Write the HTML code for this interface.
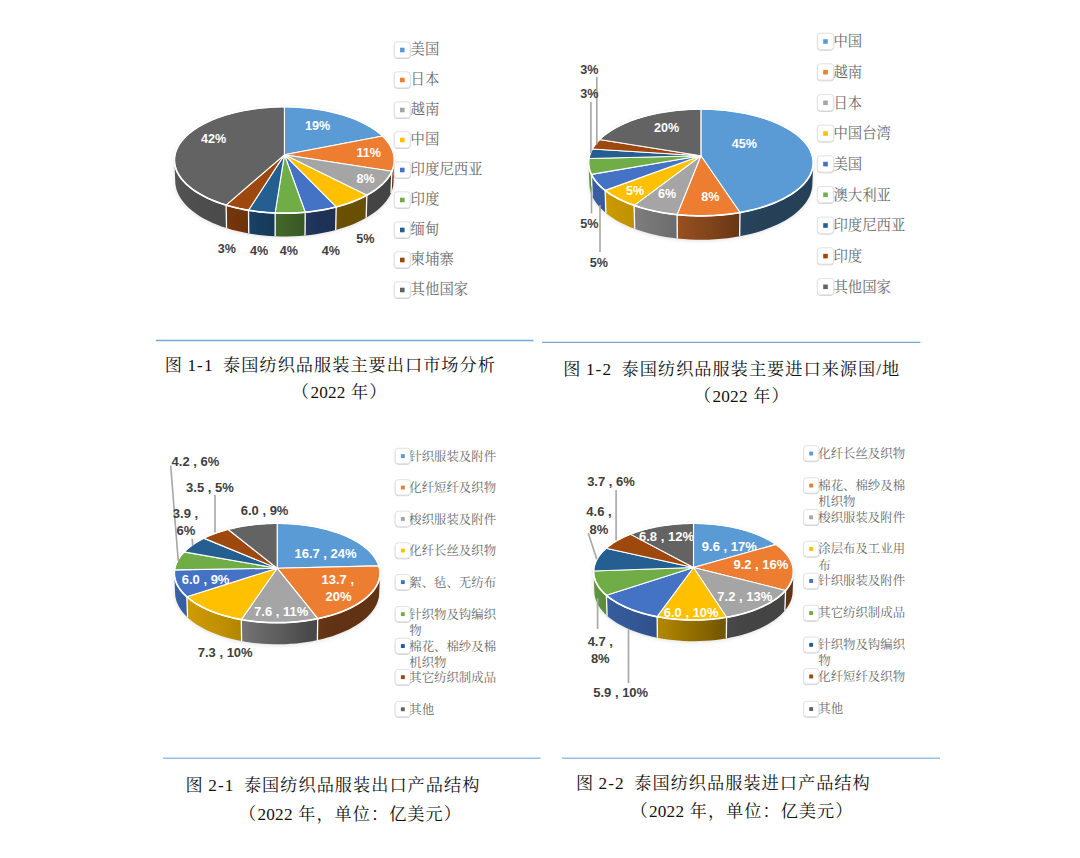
<!DOCTYPE html>
<html lang="zh-CN"><head><meta charset="utf-8"><title>泰国纺织品服装进出口结构</title>
<style>
html,body{margin:0;padding:0;background:#fff}
#page{width:1080px;height:858px;position:relative;overflow:hidden;background:#fff}
svg{display:block}
.dl{font-family:"Liberation Sans",sans-serif;font-weight:bold;text-anchor:middle}
.lg{font-family:"Liberation Serif","Noto Serif CJK SC",serif;fill:#6a6a6a}
.cp{font-family:"Liberation Serif","Noto Serif CJK SC",serif;fill:#111}
.sp{letter-spacing:1.0px}
.cn{white-space:pre;letter-spacing:1.1px}
.dg{letter-spacing:0.2px}
.rl{stroke:#76aadd;stroke-width:1.3;fill:none}
.r2{stroke:#98bee6;stroke-width:1.5}
</style></head><body>
<div id="page">
<svg width="1080" height="858" viewBox="0 0 1080 858">
<defs><filter id="blur" x="-20%" y="-20%" width="140%" height="140%"><feGaussianBlur stdDeviation="2.2"/></filter></defs>
<g id="rules">
<path d="M155.7 340.5H533.5" class="rl"/>
<path d="M542 342.4H920.4" class="rl"/>
<path d="M163 758.2H540.5" class="rl r2"/>
<path d="M562 758.2H940" class="rl r2"/>
</g>
<g id="pies">
<path d="M174.38 159.95 L174.53 157.17 L174.98 154.41 L175.72 151.68 L176.74 148.99 L178.04 146.34 L179.61 143.73 L181.44 141.18 L183.53 138.69 L185.86 136.27 L188.43 133.92 L191.22 131.64 L194.24 129.44 L197.46 127.32 L200.87 125.29 L204.48 123.36 L208.26 121.51 L212.21 119.77 L216.32 118.12 L220.57 116.58 L224.96 115.14 L229.47 113.81 L234.10 112.59 L238.83 111.48 L243.66 110.49 L248.57 109.60 L253.55 108.84 L258.60 108.19 L263.70 107.65 L268.84 107.24 L274.01 106.94 L279.20 106.76 L284.40 106.70 L289.60 106.76 L294.79 106.94 L299.96 107.24 L305.10 107.65 L310.20 108.19 L315.25 108.84 L320.23 109.60 L325.14 110.49 L329.97 111.48 L334.70 112.59 L339.33 113.81 L343.84 115.14 L348.23 116.58 L352.48 118.12 L356.59 119.77 L360.54 121.51 L364.32 123.36 L367.93 125.29 L371.34 127.32 L374.56 129.44 L377.58 131.64 L380.37 133.92 L382.94 136.27 L385.27 138.69 L387.36 141.18 L389.19 143.73 L390.76 146.34 L392.06 148.99 L393.08 151.68 L393.82 154.41 L394.27 157.17 L394.42 159.95 L393.54 181.19 L393.39 184.07 L392.94 186.96 L392.19 189.84 L391.14 192.72 L389.78 195.58 L388.12 198.41 L386.15 201.20 L383.87 203.95 L381.29 206.64 L378.42 209.27 L375.25 211.83 L371.80 214.31 L368.07 216.70 L364.07 218.99 L359.81 221.17 L355.30 223.24 L350.56 225.18 L345.60 226.98 L340.42 228.65 L335.06 230.18 L329.52 231.55 L323.83 232.76 L318.00 233.81 L312.05 234.69 L306.01 235.40 L299.89 235.94 L293.72 236.30 L287.51 236.47 L281.29 236.47 L275.08 236.30 L268.91 235.94 L262.79 235.40 L256.75 234.69 L250.80 233.81 L244.97 232.76 L239.28 231.55 L233.74 230.18 L228.38 228.65 L223.20 226.98 L218.24 225.18 L213.50 223.24 L208.99 221.17 L204.73 218.99 L200.73 216.70 L197.00 214.31 L193.55 211.83 L190.38 209.27 L187.51 206.64 L184.93 203.95 L182.65 201.20 L180.68 198.41 L179.02 195.58 L177.66 192.72 L176.61 189.84 L175.86 186.96 L175.41 184.07 L175.26 181.19Z" fill="#000" opacity="0.13" filter="url(#blur)" transform="translate(0,0.8)"/>
<linearGradient id="g0_1" gradientUnits="userSpaceOnUse" x1="394.42" y1="0" x2="391.90" y2="0"><stop offset="0.000" stop-color="#613314"/><stop offset="0.039" stop-color="#613314"/><stop offset="0.159" stop-color="#613314"/><stop offset="0.358" stop-color="#613314"/><stop offset="0.638" stop-color="#613314"/><stop offset="1.000" stop-color="#613314"/></linearGradient>
<path d="M394.42 159.95 L394.32 162.21 L394.02 164.48 L393.52 166.75 L392.81 169.01 L391.90 171.27 L391.04 192.95 L391.94 190.61 L392.64 188.25 L393.14 185.90 L393.44 183.54 L393.54 181.19Z" fill="url(#g0_1)"/>
<linearGradient id="g0_2" gradientUnits="userSpaceOnUse" x1="391.90" y1="0" x2="366.83" y2="0"><stop offset="0.000" stop-color="#444444"/><stop offset="0.052" stop-color="#444444"/><stop offset="0.115" stop-color="#444444"/><stop offset="0.189" stop-color="#444444"/><stop offset="0.273" stop-color="#444444"/><stop offset="0.368" stop-color="#444444"/><stop offset="0.474" stop-color="#444444"/><stop offset="0.591" stop-color="#444444"/><stop offset="0.717" stop-color="#444444"/><stop offset="0.854" stop-color="#444444"/><stop offset="1.000" stop-color="#444444"/></linearGradient>
<path d="M391.90 171.27 L390.60 173.85 L389.02 176.42 L387.18 178.95 L385.06 181.44 L382.67 183.89 L380.01 186.29 L377.10 188.63 L373.92 190.90 L370.50 193.10 L366.83 195.21 L366.17 217.82 L369.81 215.62 L373.21 213.34 L376.35 210.98 L379.25 208.55 L381.88 206.06 L384.25 203.52 L386.35 200.93 L388.19 198.30 L389.75 195.63 L391.04 192.95Z" fill="url(#g0_2)"/>
<linearGradient id="g0_3" gradientUnits="userSpaceOnUse" x1="366.83" y1="0" x2="336.16" y2="0"><stop offset="0.000" stop-color="#694f00"/><stop offset="0.123" stop-color="#694f00"/><stop offset="0.254" stop-color="#694f00"/><stop offset="0.391" stop-color="#694f00"/><stop offset="0.535" stop-color="#694f00"/><stop offset="0.684" stop-color="#694f00"/><stop offset="0.840" stop-color="#6a5000"/><stop offset="1.000" stop-color="#6c5100"/></linearGradient>
<path d="M366.83 195.21 L363.04 197.19 L359.04 199.07 L354.83 200.85 L350.43 202.54 L345.84 204.12 L341.08 205.59 L336.16 206.94 L335.75 229.99 L340.63 228.59 L345.35 227.07 L349.90 225.43 L354.27 223.68 L358.44 221.82 L362.41 219.87 L366.17 217.82Z" fill="url(#g0_3)"/>
<linearGradient id="g0_4" gradientUnits="userSpaceOnUse" x1="336.16" y1="0" x2="305.21" y2="0"><stop offset="0.000" stop-color="#1d3053"/><stop offset="0.158" stop-color="#1d3154"/><stop offset="0.320" stop-color="#1e3255"/><stop offset="0.486" stop-color="#1e3257"/><stop offset="0.654" stop-color="#1f3358"/><stop offset="0.826" stop-color="#20365d"/><stop offset="1.000" stop-color="#223961"/></linearGradient>
<path d="M336.16 206.94 L331.27 208.12 L326.26 209.19 L321.13 210.14 L315.90 210.97 L310.59 211.67 L305.21 212.24 L305.04 235.50 L310.38 234.91 L315.65 234.18 L320.84 233.32 L325.92 232.34 L330.90 231.23 L335.75 229.99Z" fill="url(#g0_4)"/>
<linearGradient id="g0_5" gradientUnits="userSpaceOnUse" x1="305.21" y1="0" x2="275.12" y2="0"><stop offset="0.000" stop-color="#385623"/><stop offset="0.198" stop-color="#3a5a25"/><stop offset="0.398" stop-color="#3d5e27"/><stop offset="0.598" stop-color="#3f6128"/><stop offset="0.799" stop-color="#416429"/><stop offset="1.000" stop-color="#43672a"/></linearGradient>
<path d="M305.21 212.24 L299.25 212.71 L293.24 213.02 L287.20 213.18 L281.16 213.17 L275.12 213.01 L275.19 236.30 L281.18 236.47 L287.18 236.48 L293.17 236.32 L299.13 235.99 L305.04 235.50Z" fill="url(#g0_5)"/>
<linearGradient id="g0_6" gradientUnits="userSpaceOnUse" x1="275.12" y1="0" x2="248.49" y2="0"><stop offset="0.000" stop-color="#163856"/><stop offset="0.204" stop-color="#173a59"/><stop offset="0.407" stop-color="#183c5c"/><stop offset="0.607" stop-color="#183e5f"/><stop offset="0.805" stop-color="#194062"/><stop offset="1.000" stop-color="#1a4164"/></linearGradient>
<path d="M275.12 213.01 L269.69 212.72 L264.29 212.30 L258.95 211.75 L253.68 211.08 L248.49 210.28 L248.78 233.47 L253.93 234.30 L259.16 235.00 L264.45 235.57 L269.80 236.00 L275.19 236.30Z" fill="url(#g0_6)"/>
<linearGradient id="g0_7" gradientUnits="userSpaceOnUse" x1="248.49" y1="0" x2="226.06" y2="0"><stop offset="0.000" stop-color="#6d320a"/><stop offset="0.261" stop-color="#6f330a"/><stop offset="0.515" stop-color="#72340a"/><stop offset="0.761" stop-color="#74350a"/><stop offset="1.000" stop-color="#76360a"/></linearGradient>
<path d="M248.49 210.28 L242.65 209.21 L236.95 207.99 L231.41 206.61 L226.06 205.09 L226.53 228.08 L231.84 229.66 L237.33 231.09 L242.98 232.36 L248.78 233.47Z" fill="url(#g0_7)"/>
<linearGradient id="g0_8" gradientUnits="userSpaceOnUse" x1="226.06" y1="0" x2="174.38" y2="0"><stop offset="0.000" stop-color="#4a4a4a"/><stop offset="0.098" stop-color="#4b4b4b"/><stop offset="0.191" stop-color="#4b4b4b"/><stop offset="0.281" stop-color="#4c4c4c"/><stop offset="0.366" stop-color="#4d4d4d"/><stop offset="0.446" stop-color="#4d4d4d"/><stop offset="0.521" stop-color="#4e4e4e"/><stop offset="0.592" stop-color="#4f4f4f"/><stop offset="0.656" stop-color="#4f4f4f"/><stop offset="0.716" stop-color="#505050"/><stop offset="0.770" stop-color="#515151"/><stop offset="0.818" stop-color="#515151"/><stop offset="0.861" stop-color="#525252"/><stop offset="0.898" stop-color="#535353"/><stop offset="0.929" stop-color="#535353"/><stop offset="0.955" stop-color="#545454"/><stop offset="0.975" stop-color="#545454"/><stop offset="0.989" stop-color="#555555"/><stop offset="0.997" stop-color="#555555"/><stop offset="1.000" stop-color="#565656"/></linearGradient>
<path d="M226.06 205.09 L221.01 203.47 L216.17 201.72 L211.55 199.85 L207.16 197.87 L203.01 195.78 L199.12 193.59 L195.49 191.31 L192.14 188.95 L189.06 186.52 L186.27 184.02 L183.77 181.47 L181.56 178.86 L179.65 176.22 L178.03 173.54 L176.71 170.84 L175.69 168.12 L174.96 165.40 L174.53 162.67 L174.38 159.95 L175.26 181.19 L175.41 184.02 L175.84 186.85 L176.56 189.68 L177.57 192.51 L178.88 195.31 L180.48 198.09 L182.38 200.84 L184.57 203.54 L187.05 206.20 L189.82 208.79 L192.88 211.32 L196.20 213.77 L199.80 216.13 L203.66 218.40 L207.78 220.57 L212.13 222.63 L216.72 224.58 L221.52 226.40 L226.53 228.08Z" fill="url(#g0_8)"/>
<path d="M391.90 171.27 L391.04 192.95" stroke="#fff" stroke-width="1.3" fill="none"/>
<path d="M366.83 195.21 L366.17 217.82" stroke="#fff" stroke-width="1.3" fill="none"/>
<path d="M336.16 206.94 L335.75 229.99" stroke="#fff" stroke-width="1.3" fill="none"/>
<path d="M305.21 212.24 L305.04 235.50" stroke="#fff" stroke-width="1.3" fill="none"/>
<path d="M275.12 213.01 L275.19 236.30" stroke="#fff" stroke-width="1.3" fill="none"/>
<path d="M248.49 210.28 L248.78 233.47" stroke="#fff" stroke-width="1.3" fill="none"/>
<path d="M226.06 205.09 L226.53 228.08" stroke="#fff" stroke-width="1.3" fill="none"/>
<path d="M284.40 154.80 L284.40 106.70 L287.81 106.73 L291.21 106.80 L294.60 106.93 L297.99 107.11 L301.37 107.34 L304.73 107.62 L308.07 107.95 L311.40 108.33 L314.70 108.76 L317.97 109.24 L321.21 109.77 L324.43 110.35 L327.60 110.98 L330.74 111.66 L333.84 112.38 L336.90 113.15 L339.90 113.97 L342.86 114.84 L345.77 115.76 L348.62 116.71 L351.41 117.72 L354.14 118.77 L356.80 119.86 L359.40 120.99 L361.93 122.17 L364.38 123.39 L366.76 124.65 L369.06 125.94 L371.28 127.28 L373.41 128.66 L375.46 130.07 L377.41 131.51 L379.28 132.99 L381.04 134.50 L382.71 136.05Z" fill="#5B9BD5" stroke="#fff" stroke-width="1.1" stroke-linejoin="round"/>
<path d="M284.40 154.80 L382.71 136.05 L384.28 137.63 L385.75 139.24 L387.12 140.88 L388.37 142.54 L389.51 144.23 L390.54 145.94 L391.45 147.68 L392.25 149.43 L392.92 151.20 L393.47 152.98 L393.90 154.78 L394.20 156.60 L394.37 158.42 L394.41 160.25 L394.33 162.08 L394.11 163.92 L393.76 165.76 L393.27 167.60 L392.65 169.44 L391.90 171.27Z" fill="#ED7D31" stroke="#fff" stroke-width="1.1" stroke-linejoin="round"/>
<path d="M284.40 154.80 L391.90 171.27 L391.00 173.12 L389.96 174.95 L388.78 176.78 L387.46 178.59 L386.00 180.38 L384.40 182.15 L382.67 183.89 L380.80 185.61 L378.79 187.30 L376.66 188.96 L374.39 190.58 L372.00 192.16 L369.47 193.71 L366.83 195.21Z" fill="#A5A5A5" stroke="#fff" stroke-width="1.1" stroke-linejoin="round"/>
<path d="M284.40 154.80 L366.83 195.21 L364.20 196.60 L361.47 197.95 L358.63 199.25 L355.69 200.50 L352.66 201.71 L349.53 202.86 L346.31 203.97 L343.01 205.01 L339.62 206.00 L336.16 206.94Z" fill="#FFC000" stroke="#fff" stroke-width="1.1" stroke-linejoin="round"/>
<path d="M284.40 154.80 L336.16 206.94 L332.51 207.84 L328.78 208.67 L324.98 209.44 L321.13 210.14 L317.22 210.77 L313.26 211.33 L309.25 211.82 L305.21 212.24Z" fill="#4472C4" stroke="#fff" stroke-width="1.1" stroke-linejoin="round"/>
<path d="M284.40 154.80 L305.21 212.24 L301.49 212.55 L297.75 212.80 L293.99 212.99 L290.22 213.12 L286.45 213.19 L282.67 213.19 L278.89 213.13 L275.12 213.01Z" fill="#70AD47" stroke="#fff" stroke-width="1.1" stroke-linejoin="round"/>
<path d="M284.40 154.80 L275.12 213.01 L271.24 212.81 L267.37 212.56 L263.53 212.23 L259.71 211.84 L255.93 211.38 L252.19 210.86 L248.49 210.28Z" fill="#255E91" stroke="#fff" stroke-width="1.1" stroke-linejoin="round"/>
<path d="M284.40 154.80 L248.49 210.28 L244.58 209.59 L240.73 208.82 L236.95 207.99 L233.24 207.09 L229.61 206.12 L226.06 205.09Z" fill="#9E480E" stroke="#fff" stroke-width="1.1" stroke-linejoin="round"/>
<path d="M284.40 154.80 L226.06 205.09 L222.60 204.00 L219.22 202.85 L215.95 201.63 L212.78 200.37 L209.71 199.05 L206.76 197.67 L203.92 196.25 L201.19 194.78 L198.59 193.27 L196.11 191.72 L193.76 190.13 L191.54 188.50 L189.44 186.84 L187.48 185.15 L185.66 183.43 L183.96 181.68 L182.41 179.91 L180.99 178.12 L179.71 176.31 L178.57 174.49 L177.56 172.66 L176.70 170.81 L175.97 168.96 L175.38 167.10 L174.93 165.24 L174.61 163.38 L174.43 161.52 L174.39 159.66 L174.47 157.82 L174.69 155.98 L175.04 154.15 L175.52 152.33 L176.12 150.53 L176.85 148.75 L177.70 146.98 L178.66 145.24 L179.75 143.52 L180.96 141.82 L182.27 140.15 L183.70 138.51 L185.23 136.89 L186.88 135.31 L188.62 133.75 L190.46 132.23 L192.40 130.75 L194.44 129.30 L196.56 127.89 L198.78 126.51 L201.08 125.18 L203.46 123.89 L205.92 122.63 L208.46 121.42 L211.07 120.25 L213.75 119.13 L216.51 118.05 L219.32 117.02 L222.20 116.03 L225.13 115.09 L228.12 114.20 L231.16 113.35 L234.25 112.56 L237.39 111.81 L240.57 111.11 L243.79 110.46 L247.04 109.87 L250.33 109.32 L253.65 108.82 L257.00 108.38 L260.37 107.99 L263.76 107.65 L267.17 107.36 L270.60 107.12 L274.04 106.94 L277.49 106.81 L280.94 106.73 L284.40 106.70Z" fill="#636363" stroke="#fff" stroke-width="1.1" stroke-linejoin="round"/>
<path d="M284.40 106.70 L287.88 106.73 L291.37 106.81 L294.84 106.94 L298.31 107.13 L301.76 107.37 L305.20 107.66 L308.62 108.01 L312.02 108.41 L315.39 108.86 L318.73 109.36 L322.04 109.92 L325.32 110.52 L328.56 111.18 L331.76 111.89 L334.92 112.65 L338.03 113.46 L341.09 114.31 L344.09 115.22 L347.04 116.18 L349.93 117.18 L352.76 118.23 L355.52 119.32 L358.21 120.46 L360.83 121.65 L363.37 122.88 L365.84 124.15 L368.22 125.46 L370.52 126.82 L372.73 128.21 L374.86 129.64 L376.88 131.11 L378.82 132.62 L380.65 134.16 L382.38 135.73 L384.00 137.34 L385.52 138.97 L386.93 140.64 L388.22 142.33 L389.40 144.05 L390.46 145.79 L391.39 147.56 L392.21 149.34 L392.90 151.15 L393.47 152.97 L393.90 154.80 L394.20 156.65 L394.38 158.50 L394.41 160.37 L394.31 162.24 L394.08 164.12 L393.70 165.99 L393.19 167.87 L392.54 169.74 L391.75 171.60 L390.82 173.46 L389.74 175.30 L388.53 177.13 L387.17 178.95 L385.68 180.74 L384.05 182.52 L382.28 184.26 L380.37 185.98 L378.33 187.67 L376.15 189.33 L373.84 190.95 L371.40 192.54 L368.84 194.08 L366.15 195.58 L363.34 197.04 L360.42 198.44 L357.38 199.80 L354.23 201.10 L350.97 202.34 L347.61 203.53 L344.15 204.66 L340.61 205.72 L336.97 206.72 L333.25 207.66 L329.46 208.53 L325.59 209.32 L321.66 210.05 L317.68 210.70 L313.63 211.28 L309.54 211.79 L305.42 212.22 L301.25 212.57 L297.06 212.84 L292.85 213.04 L288.63 213.16 L284.40 213.20 L280.17 213.16 L275.95 213.04 L271.74 212.84 L267.55 212.57 L263.38 212.22 L259.26 211.79 L255.17 211.28 L251.12 210.70 L247.14 210.05 L243.21 209.32 L239.34 208.53 L235.55 207.66 L231.83 206.72 L228.19 205.72 L224.65 204.66 L221.19 203.53 L217.83 202.34 L214.57 201.10 L211.42 199.80 L208.38 198.44 L205.46 197.04 L202.65 195.58 L199.96 194.08 L197.40 192.54 L194.96 190.95 L192.65 189.33 L190.47 187.67 L188.43 185.98 L186.52 184.26 L184.75 182.52 L183.12 180.74 L181.63 178.95 L180.27 177.13 L179.06 175.30 L177.98 173.46 L177.05 171.60 L176.26 169.74 L175.61 167.87 L175.10 165.99 L174.72 164.12 L174.49 162.24 L174.39 160.37 L174.42 158.50 L174.60 156.65 L174.90 154.80 L175.33 152.97 L175.90 151.15 L176.59 149.34 L177.41 147.56 L178.34 145.79 L179.40 144.05 L180.58 142.33 L181.87 140.64 L183.28 138.97 L184.80 137.34 L186.42 135.73 L188.15 134.16 L189.98 132.62 L191.92 131.11 L193.94 129.64 L196.07 128.21 L198.28 126.82 L200.58 125.46 L202.96 124.15 L205.43 122.88 L207.97 121.65 L210.59 120.46 L213.28 119.32 L216.04 118.23 L218.87 117.18 L221.76 116.18 L224.71 115.22 L227.71 114.31 L230.77 113.46 L233.88 112.65 L237.04 111.89 L240.24 111.18 L243.48 110.52 L246.76 109.92 L250.07 109.36 L253.41 108.86 L256.78 108.41 L260.18 108.01 L263.60 107.66 L267.04 107.37 L270.49 107.13 L273.96 106.94 L277.43 106.81 L280.92 106.73Z" fill="none" stroke="#fff" stroke-width="1.7"/>
<path d="M588.53 162.45 L588.68 159.65 L589.14 156.87 L589.90 154.13 L590.94 151.43 L592.27 148.78 L593.86 146.18 L595.72 143.63 L597.84 141.15 L600.20 138.74 L602.79 136.40 L605.61 134.13 L608.64 131.95 L611.87 129.85 L615.30 127.84 L618.90 125.91 L622.68 124.09 L626.63 122.35 L630.72 120.72 L634.96 119.19 L639.32 117.76 L643.81 116.43 L648.41 115.21 L653.10 114.09 L657.89 113.09 L662.76 112.19 L667.70 111.40 L672.71 110.73 L677.76 110.16 L682.86 109.71 L687.99 109.37 L693.15 109.15 L698.31 109.03 L703.49 109.03 L708.65 109.15 L713.81 109.37 L718.94 109.71 L724.04 110.16 L729.09 110.73 L734.10 111.40 L739.04 112.19 L743.91 113.09 L748.70 114.09 L753.39 115.21 L757.99 116.43 L762.48 117.76 L766.84 119.19 L771.08 120.72 L775.17 122.35 L779.12 124.09 L782.90 125.91 L786.50 127.84 L789.93 129.85 L793.16 131.95 L796.19 134.13 L799.01 136.40 L801.60 138.74 L803.96 141.15 L806.08 143.63 L807.94 146.18 L809.53 148.78 L810.86 151.43 L811.90 154.13 L812.66 156.87 L813.12 159.65 L813.27 162.45 L812.37 183.70 L812.22 186.63 L811.76 189.57 L810.99 192.51 L809.90 195.44 L808.50 198.36 L806.77 201.25 L804.72 204.12 L802.36 206.93 L799.67 209.70 L796.67 212.40 L793.35 215.03 L789.73 217.57 L785.82 220.03 L781.61 222.38 L777.13 224.61 L772.38 226.73 L767.38 228.71 L762.14 230.55 L756.68 232.25 L751.02 233.79 L745.17 235.16 L739.16 236.37 L733.01 237.40 L726.73 238.25 L720.36 238.91 L713.91 239.39 L707.42 239.68 L700.90 239.77 L694.38 239.68 L687.89 239.39 L681.44 238.91 L675.07 238.25 L668.79 237.40 L662.64 236.37 L656.63 235.16 L650.78 233.79 L645.12 232.25 L639.66 230.55 L634.42 228.71 L629.42 226.73 L624.67 224.61 L620.19 222.38 L615.98 220.03 L612.07 217.57 L608.45 215.03 L605.13 212.40 L602.13 209.70 L599.44 206.93 L597.08 204.12 L595.03 201.25 L593.30 198.36 L591.90 195.44 L590.81 192.51 L590.04 189.57 L589.58 186.63 L589.43 183.70Z" fill="#000" opacity="0.13" filter="url(#blur)" transform="translate(0,0.8)"/>
<linearGradient id="g1_0" gradientUnits="userSpaceOnUse" x1="813.27" y1="0" x2="739.98" y2="0"><stop offset="0.000" stop-color="#254057"/><stop offset="0.002" stop-color="#254057"/><stop offset="0.008" stop-color="#254057"/><stop offset="0.019" stop-color="#254057"/><stop offset="0.034" stop-color="#254057"/><stop offset="0.053" stop-color="#254057"/><stop offset="0.076" stop-color="#254057"/><stop offset="0.104" stop-color="#254057"/><stop offset="0.137" stop-color="#254057"/><stop offset="0.173" stop-color="#254057"/><stop offset="0.214" stop-color="#254057"/><stop offset="0.260" stop-color="#254057"/><stop offset="0.309" stop-color="#254057"/><stop offset="0.363" stop-color="#254057"/><stop offset="0.420" stop-color="#254057"/><stop offset="0.481" stop-color="#254057"/><stop offset="0.546" stop-color="#254057"/><stop offset="0.614" stop-color="#254057"/><stop offset="0.686" stop-color="#254057"/><stop offset="0.760" stop-color="#264159"/><stop offset="0.838" stop-color="#27425b"/><stop offset="0.918" stop-color="#28435c"/><stop offset="1.000" stop-color="#28455e"/></linearGradient>
<path d="M813.27 162.45 L813.12 165.22 L812.66 168.01 L811.89 170.80 L810.80 173.59 L809.40 176.36 L807.67 179.11 L805.62 181.83 L803.25 184.50 L800.56 187.13 L797.56 189.70 L794.24 192.19 L790.62 194.61 L786.70 196.95 L782.50 199.18 L778.01 201.31 L773.26 203.32 L768.25 205.21 L763.00 206.97 L757.53 208.59 L751.86 210.06 L746.00 211.38 L739.98 212.54 L739.67 236.27 L745.64 235.06 L751.45 233.68 L757.08 232.13 L762.51 230.43 L767.71 228.59 L772.68 226.60 L777.39 224.49 L781.84 222.25 L786.02 219.91 L789.90 217.46 L793.50 214.92 L796.79 212.30 L799.77 209.61 L802.43 206.85 L804.78 204.04 L806.81 201.19 L808.53 198.30 L809.92 195.40 L811.00 192.47 L811.77 189.54 L812.22 186.62 L812.37 183.70Z" fill="url(#g1_0)"/>
<linearGradient id="g1_1" gradientUnits="userSpaceOnUse" x1="739.98" y1="0" x2="677.10" y2="0"><stop offset="0.000" stop-color="#693716"/><stop offset="0.096" stop-color="#6b3816"/><stop offset="0.194" stop-color="#713b17"/><stop offset="0.293" stop-color="#773f19"/><stop offset="0.393" stop-color="#7d421a"/><stop offset="0.494" stop-color="#82451b"/><stop offset="0.596" stop-color="#86471c"/><stop offset="0.698" stop-color="#8a491d"/><stop offset="0.799" stop-color="#8e4b1d"/><stop offset="0.900" stop-color="#944e1f"/><stop offset="1.000" stop-color="#995120"/></linearGradient>
<path d="M739.98 212.54 L733.95 213.51 L727.81 214.32 L721.57 214.96 L715.26 215.44 L708.89 215.74 L702.50 215.87 L696.10 215.82 L689.72 215.61 L683.38 215.22 L677.10 214.66 L677.29 238.50 L683.52 239.09 L689.81 239.49 L696.14 239.72 L702.49 239.77 L708.83 239.63 L715.14 239.31 L721.41 238.82 L727.60 238.14 L733.69 237.29 L739.67 236.27Z" fill="url(#g1_1)"/>
<linearGradient id="g1_2" gradientUnits="userSpaceOnUse" x1="677.10" y1="0" x2="634.14" y2="0"><stop offset="0.000" stop-color="#6b6b6b"/><stop offset="0.135" stop-color="#6e6e6e"/><stop offset="0.268" stop-color="#717171"/><stop offset="0.399" stop-color="#737373"/><stop offset="0.526" stop-color="#757575"/><stop offset="0.651" stop-color="#777777"/><stop offset="0.771" stop-color="#797979"/><stop offset="0.888" stop-color="#7c7c7c"/><stop offset="1.000" stop-color="#7d7d7d"/></linearGradient>
<path d="M677.10 214.66 L671.29 213.98 L665.57 213.16 L659.97 212.20 L654.49 211.10 L649.15 209.87 L643.97 208.51 L638.96 207.03 L634.14 205.42 L634.68 228.81 L639.46 230.49 L644.43 232.04 L649.56 233.47 L654.86 234.77 L660.29 235.92 L665.85 236.93 L671.53 237.79 L677.29 238.50Z" fill="url(#g1_2)"/>
<linearGradient id="g1_3" gradientUnits="userSpaceOnUse" x1="634.14" y1="0" x2="605.13" y2="0"><stop offset="0.000" stop-color="#c19100"/><stop offset="0.170" stop-color="#c29200"/><stop offset="0.331" stop-color="#c49400"/><stop offset="0.484" stop-color="#c69500"/><stop offset="0.627" stop-color="#c89600"/><stop offset="0.761" stop-color="#c99800"/><stop offset="0.886" stop-color="#cb9900"/><stop offset="1.000" stop-color="#cd9a00"/></linearGradient>
<path d="M634.14 205.42 L629.22 203.59 L624.54 201.64 L620.11 199.58 L615.95 197.42 L612.05 195.16 L608.45 192.81 L605.13 190.39 L605.89 213.03 L609.19 215.57 L612.76 218.03 L616.62 220.40 L620.76 222.68 L625.15 224.84 L629.79 226.89 L634.68 228.81Z" fill="url(#g1_3)"/>
<linearGradient id="g1_4" gradientUnits="userSpaceOnUse" x1="605.13" y1="0" x2="591.38" y2="0"><stop offset="0.000" stop-color="#375c9d"/><stop offset="0.224" stop-color="#375c9f"/><stop offset="0.426" stop-color="#385da0"/><stop offset="0.604" stop-color="#385ea1"/><stop offset="0.759" stop-color="#385ea2"/><stop offset="0.891" stop-color="#395fa4"/><stop offset="1.000" stop-color="#3960a5"/></linearGradient>
<path d="M605.13 190.39 L602.04 187.85 L599.27 185.25 L596.82 182.59 L594.69 179.89 L592.87 177.16 L591.38 174.40 L592.25 196.25 L593.74 199.14 L595.54 202.01 L597.65 204.84 L600.09 207.63 L602.84 210.36 L605.89 213.03Z" fill="url(#g1_4)"/>
<linearGradient id="g1_5" gradientUnits="userSpaceOnUse" x1="591.38" y1="0" x2="588.53" y2="0"><stop offset="0.000" stop-color="#5e913c"/><stop offset="0.363" stop-color="#5f923c"/><stop offset="0.643" stop-color="#5f933c"/><stop offset="0.842" stop-color="#60943d"/><stop offset="0.961" stop-color="#60953d"/><stop offset="1.000" stop-color="#61963d"/></linearGradient>
<path d="M591.38 174.40 L590.34 172.01 L589.54 169.62 L588.98 167.22 L588.64 164.83 L588.53 162.45 L589.43 183.70 L589.54 186.20 L589.87 188.72 L590.44 191.23 L591.23 193.74 L592.25 196.25Z" fill="url(#g1_5)"/>
<path d="M739.98 212.54 L739.67 236.27" stroke="#fff" stroke-width="1.3" fill="none"/>
<path d="M677.10 214.66 L677.29 238.50" stroke="#fff" stroke-width="1.3" fill="none"/>
<path d="M634.14 205.42 L634.68 228.81" stroke="#fff" stroke-width="1.3" fill="none"/>
<path d="M605.13 190.39 L605.89 213.03" stroke="#fff" stroke-width="1.3" fill="none"/>
<path d="M591.38 174.40 L592.25 196.25" stroke="#fff" stroke-width="1.3" fill="none"/>
<path d="M700.90 155.80 L700.90 109.02 L704.36 109.04 L707.82 109.12 L711.27 109.25 L714.72 109.42 L718.15 109.65 L721.57 109.93 L724.97 110.26 L728.35 110.64 L731.71 111.07 L735.04 111.55 L738.35 112.07 L741.62 112.65 L744.86 113.28 L748.07 113.95 L751.23 114.68 L754.35 115.45 L757.42 116.27 L760.45 117.14 L763.42 118.05 L766.34 119.01 L769.19 120.02 L771.99 121.07 L774.73 122.17 L777.39 123.31 L779.99 124.49 L782.51 125.72 L784.96 126.99 L787.33 128.30 L789.61 129.65 L791.81 131.04 L793.92 132.47 L795.93 133.93 L797.85 135.44 L799.68 136.97 L801.40 138.54 L803.02 140.15 L804.53 141.78 L805.93 143.45 L807.21 145.14 L808.38 146.86 L809.44 148.60 L810.37 150.37 L811.17 152.16 L811.85 153.97 L812.40 155.80 L812.82 157.64 L813.10 159.50 L813.25 161.37 L813.26 163.25 L813.13 165.14 L812.86 167.03 L812.44 168.92 L811.89 170.81 L811.18 172.70 L810.33 174.59 L809.33 176.47 L808.19 178.33 L806.90 180.19 L805.45 182.03 L803.87 183.84 L802.13 185.64 L800.25 187.41 L798.22 189.16 L796.05 190.87 L793.74 192.55 L791.28 194.19 L788.69 195.80 L785.97 197.36 L783.11 198.87 L780.12 200.34 L777.01 201.75 L773.77 203.12 L770.42 204.42 L766.95 205.67 L763.38 206.85 L759.71 207.97 L755.93 209.03 L752.07 210.01 L748.11 210.93 L744.08 211.77 L739.98 212.54Z" fill="#5B9BD5" stroke="#fff" stroke-width="1.1" stroke-linejoin="round"/>
<path d="M700.90 155.80 L739.98 212.54 L735.98 213.20 L731.92 213.80 L727.81 214.32 L723.66 214.77 L719.47 215.14 L715.26 215.44 L711.02 215.66 L706.76 215.80 L702.50 215.87 L698.23 215.86 L693.97 215.77 L689.72 215.61 L685.49 215.37 L681.28 215.05 L677.10 214.66Z" fill="#ED7D31" stroke="#fff" stroke-width="1.1" stroke-linejoin="round"/>
<path d="M700.90 155.80 L677.10 214.66 L672.86 214.18 L668.68 213.63 L664.54 213.00 L660.47 212.30 L656.46 211.52 L652.53 210.67 L648.67 209.75 L644.90 208.77 L641.22 207.71 L637.63 206.60 L634.14 205.42Z" fill="#A5A5A5" stroke="#fff" stroke-width="1.1" stroke-linejoin="round"/>
<path d="M700.90 155.80 L634.14 205.42 L630.98 204.27 L627.92 203.07 L624.95 201.82 L622.09 200.53 L619.33 199.20 L616.68 197.82 L614.14 196.40 L611.71 194.95 L609.40 193.46 L607.21 191.94 L605.13 190.39Z" fill="#FFC000" stroke="#fff" stroke-width="1.1" stroke-linejoin="round"/>
<path d="M700.90 155.80 L605.13 190.39 L603.04 188.71 L601.09 186.99 L599.27 185.25 L597.60 183.48 L596.07 181.70 L594.69 179.89 L593.44 178.07 L592.34 176.24 L591.38 174.40Z" fill="#4472C4" stroke="#fff" stroke-width="1.1" stroke-linejoin="round"/>
<path d="M700.90 155.80 L591.38 174.40 L590.59 172.63 L589.93 170.85 L589.39 169.07 L588.99 167.29 L588.71 165.51 L588.56 163.74 L588.53 161.97 L588.63 160.21 L588.84 158.46Z" fill="#70AD47" stroke="#fff" stroke-width="1.1" stroke-linejoin="round"/>
<path d="M700.90 155.80 L588.84 158.46 L589.15 156.85 L589.55 155.25 L590.06 153.66 L590.66 152.09 L591.36 150.53 L592.15 148.99Z" fill="#255E91" stroke="#fff" stroke-width="1.1" stroke-linejoin="round"/>
<path d="M700.90 155.80 L592.15 148.99 L593.10 147.36 L594.15 145.76 L595.31 144.17 L596.56 142.61 L597.91 141.08 L599.35 139.57Z" fill="#9E480E" stroke="#fff" stroke-width="1.1" stroke-linejoin="round"/>
<path d="M700.90 155.80 L599.35 139.57 L600.99 137.99 L602.73 136.45 L604.57 134.94 L606.50 133.46 L608.53 132.02 L610.64 130.62 L612.84 129.25 L615.13 127.93 L617.49 126.64 L619.94 125.40 L622.45 124.19 L625.04 123.03 L627.70 121.91 L630.42 120.84 L633.20 119.80 L636.04 118.82 L638.94 117.87 L641.90 116.98 L644.90 116.13 L647.95 115.32 L651.04 114.57 L654.18 113.86 L657.36 113.19 L660.57 112.58 L663.81 112.01 L667.09 111.50 L670.39 111.03 L673.72 110.61 L677.07 110.23 L680.44 109.91 L683.82 109.64 L687.22 109.42 L690.63 109.24 L694.05 109.12 L697.47 109.04 L700.90 109.02Z" fill="#636363" stroke="#fff" stroke-width="1.1" stroke-linejoin="round"/>
<path d="M700.90 109.02 L704.36 109.04 L707.82 109.12 L711.27 109.25 L714.72 109.42 L718.15 109.65 L721.57 109.93 L724.97 110.26 L728.35 110.64 L731.71 111.07 L735.04 111.55 L738.35 112.07 L741.62 112.65 L744.86 113.28 L748.07 113.95 L751.23 114.68 L754.35 115.45 L757.42 116.27 L760.45 117.14 L763.42 118.05 L766.34 119.01 L769.19 120.02 L771.99 121.07 L774.73 122.17 L777.39 123.31 L779.99 124.49 L782.51 125.72 L784.96 126.99 L787.33 128.30 L789.61 129.65 L791.81 131.04 L793.92 132.47 L795.93 133.93 L797.85 135.44 L799.68 136.97 L801.40 138.54 L803.02 140.15 L804.53 141.78 L805.93 143.45 L807.21 145.14 L808.38 146.86 L809.44 148.60 L810.37 150.37 L811.17 152.16 L811.85 153.97 L812.40 155.80 L812.82 157.64 L813.10 159.50 L813.25 161.37 L813.26 163.25 L813.13 165.14 L812.86 167.03 L812.44 168.92 L811.89 170.81 L811.18 172.70 L810.33 174.59 L809.33 176.47 L808.19 178.33 L806.90 180.19 L805.45 182.03 L803.87 183.84 L802.13 185.64 L800.25 187.41 L798.22 189.16 L796.05 190.87 L793.74 192.55 L791.28 194.19 L788.69 195.80 L785.97 197.36 L783.11 198.87 L780.12 200.34 L777.01 201.75 L773.77 203.12 L770.42 204.42 L766.95 205.67 L763.38 206.85 L759.71 207.97 L755.93 209.03 L752.07 210.01 L748.11 210.93 L744.08 211.77 L739.98 212.54 L735.81 213.23 L731.58 213.84 L727.29 214.38 L722.96 214.83 L718.60 215.21 L714.20 215.50 L709.78 215.71 L705.34 215.83 L700.90 215.87 L696.46 215.83 L692.02 215.71 L687.60 215.50 L683.20 215.21 L678.84 214.83 L674.51 214.38 L670.22 213.84 L665.99 213.23 L661.82 212.54 L657.72 211.77 L653.69 210.93 L649.73 210.01 L645.87 209.03 L642.09 207.97 L638.42 206.85 L634.85 205.67 L631.38 204.42 L628.03 203.12 L624.79 201.75 L621.68 200.34 L618.69 198.87 L615.83 197.36 L613.11 195.80 L610.52 194.19 L608.06 192.55 L605.75 190.87 L603.58 189.16 L601.55 187.41 L599.67 185.64 L597.93 183.84 L596.35 182.03 L594.90 180.19 L593.61 178.33 L592.47 176.47 L591.47 174.59 L590.62 172.70 L589.91 170.81 L589.36 168.92 L588.94 167.03 L588.67 165.14 L588.54 163.25 L588.55 161.37 L588.70 159.50 L588.98 157.64 L589.40 155.80 L589.95 153.97 L590.63 152.16 L591.43 150.37 L592.36 148.60 L593.42 146.86 L594.59 145.14 L595.87 143.45 L597.27 141.78 L598.78 140.15 L600.40 138.54 L602.12 136.97 L603.95 135.44 L605.87 133.93 L607.88 132.47 L609.99 131.04 L612.19 129.65 L614.47 128.30 L616.84 126.99 L619.29 125.72 L621.81 124.49 L624.41 123.31 L627.07 122.17 L629.81 121.07 L632.61 120.02 L635.46 119.01 L638.38 118.05 L641.35 117.14 L644.38 116.27 L647.45 115.45 L650.57 114.68 L653.73 113.95 L656.94 113.28 L660.18 112.65 L663.45 112.07 L666.76 111.55 L670.09 111.07 L673.45 110.64 L676.83 110.26 L680.23 109.93 L683.65 109.65 L687.08 109.42 L690.53 109.25 L693.98 109.12 L697.44 109.04Z" fill="none" stroke="#fff" stroke-width="1.7"/>
<path d="M174.28 572.95 L174.42 570.36 L174.84 567.78 L175.53 565.23 L176.48 562.72 L177.69 560.24 L179.16 557.81 L180.87 555.43 L182.82 553.10 L185.00 550.84 L187.40 548.64 L190.01 546.51 L192.83 544.45 L195.84 542.48 L199.03 540.58 L202.40 538.77 L205.94 537.05 L209.63 535.42 L213.47 533.88 L217.45 532.43 L221.55 531.09 L225.77 529.85 L230.10 528.71 L234.53 527.67 L239.04 526.74 L243.63 525.91 L248.29 525.20 L253.01 524.59 L257.78 524.09 L262.59 523.70 L267.43 523.42 L272.28 523.25 L277.15 523.20 L282.02 523.25 L286.87 523.42 L291.71 523.70 L296.52 524.09 L301.29 524.59 L306.01 525.20 L310.67 525.91 L315.26 526.74 L319.77 527.67 L324.20 528.71 L328.53 529.85 L332.75 531.09 L336.85 532.43 L340.83 533.88 L344.67 535.42 L348.36 537.05 L351.90 538.77 L355.27 540.58 L358.46 542.48 L361.47 544.45 L364.29 546.51 L366.90 548.64 L369.30 550.84 L371.48 553.10 L373.43 555.43 L375.14 557.81 L376.61 560.24 L377.82 562.72 L378.77 565.23 L379.46 567.78 L379.88 570.36 L380.02 572.95 L379.20 592.67 L379.06 595.36 L378.64 598.06 L377.94 600.75 L376.95 603.44 L375.68 606.10 L374.12 608.75 L372.28 611.36 L370.15 613.92 L367.74 616.44 L365.05 618.90 L362.09 621.29 L358.86 623.60 L355.37 625.83 L351.63 627.97 L347.65 630.00 L343.43 631.93 L339.00 633.74 L334.35 635.43 L329.52 636.99 L324.51 638.41 L319.33 639.69 L314.01 640.82 L308.56 641.80 L303.00 642.62 L297.35 643.28 L291.63 643.78 L285.86 644.12 L280.06 644.28 L274.24 644.28 L268.44 644.12 L262.67 643.78 L256.95 643.28 L251.30 642.62 L245.74 641.80 L240.29 640.82 L234.97 639.69 L229.79 638.41 L224.78 636.99 L219.95 635.43 L215.30 633.74 L210.87 631.93 L206.65 630.00 L202.67 627.97 L198.93 625.83 L195.44 623.60 L192.21 621.29 L189.25 618.90 L186.56 616.44 L184.15 613.92 L182.02 611.36 L180.18 608.75 L178.62 606.10 L177.35 603.44 L176.36 600.75 L175.66 598.06 L175.24 595.36 L175.10 592.67Z" fill="#000" opacity="0.13" filter="url(#blur)" transform="translate(0,0.8)"/>
<linearGradient id="g2_1" gradientUnits="userSpaceOnUse" x1="380.02" y1="0" x2="317.73" y2="0"><stop offset="0.000" stop-color="#613314"/><stop offset="0.002" stop-color="#613314"/><stop offset="0.008" stop-color="#613314"/><stop offset="0.019" stop-color="#613314"/><stop offset="0.034" stop-color="#613314"/><stop offset="0.054" stop-color="#613314"/><stop offset="0.077" stop-color="#613314"/><stop offset="0.106" stop-color="#613314"/><stop offset="0.138" stop-color="#613314"/><stop offset="0.175" stop-color="#613314"/><stop offset="0.216" stop-color="#613314"/><stop offset="0.261" stop-color="#613314"/><stop offset="0.310" stop-color="#613314"/><stop offset="0.364" stop-color="#613314"/><stop offset="0.421" stop-color="#613314"/><stop offset="0.482" stop-color="#613314"/><stop offset="0.547" stop-color="#613314"/><stop offset="0.615" stop-color="#613314"/><stop offset="0.686" stop-color="#613314"/><stop offset="0.761" stop-color="#613314"/><stop offset="0.838" stop-color="#633414"/><stop offset="0.918" stop-color="#653515"/><stop offset="1.000" stop-color="#673615"/></linearGradient>
<path d="M380.02 572.95 L379.89 575.47 L379.49 577.99 L378.82 580.51 L377.89 583.03 L376.68 585.53 L375.20 588.00 L373.45 590.45 L371.42 592.86 L369.13 595.23 L366.57 597.55 L363.75 599.80 L360.68 601.99 L357.35 604.11 L353.79 606.14 L349.99 608.09 L345.96 609.94 L341.72 611.68 L337.27 613.32 L332.64 614.85 L327.83 616.25 L322.85 617.53 L317.73 618.67 L317.40 640.12 L322.49 638.93 L327.42 637.60 L332.20 636.15 L336.79 634.57 L341.20 632.87 L345.41 631.05 L349.40 629.13 L353.17 627.11 L356.71 625.00 L360.01 622.81 L363.06 620.54 L365.86 618.19 L368.39 615.79 L370.67 613.33 L372.68 610.83 L374.41 608.29 L375.88 605.72 L377.08 603.13 L378.01 600.52 L378.67 597.90 L379.07 595.28 L379.20 592.67Z" fill="url(#g2_1)"/>
<linearGradient id="g2_2" gradientUnits="userSpaceOnUse" x1="317.73" y1="0" x2="241.33" y2="0"><stop offset="0.000" stop-color="#484848"/><stop offset="0.068" stop-color="#494949"/><stop offset="0.137" stop-color="#4a4a4a"/><stop offset="0.207" stop-color="#4e4e4e"/><stop offset="0.279" stop-color="#525252"/><stop offset="0.351" stop-color="#565656"/><stop offset="0.424" stop-color="#5a5a5a"/><stop offset="0.497" stop-color="#5d5d5d"/><stop offset="0.571" stop-color="#606060"/><stop offset="0.644" stop-color="#626262"/><stop offset="0.717" stop-color="#666666"/><stop offset="0.789" stop-color="#6a6a6a"/><stop offset="0.861" stop-color="#6d6d6d"/><stop offset="0.931" stop-color="#717171"/><stop offset="1.000" stop-color="#737373"/></linearGradient>
<path d="M317.73 618.67 L312.55 619.67 L307.27 620.53 L301.88 621.25 L296.42 621.82 L290.90 622.26 L285.33 622.55 L279.73 622.69 L274.13 622.68 L268.53 622.53 L262.97 622.23 L257.45 621.78 L251.99 621.19 L246.61 620.46 L241.33 619.59 L241.62 641.07 L246.86 641.98 L252.19 642.74 L257.60 643.35 L263.08 643.81 L268.60 644.12 L274.15 644.28 L279.71 644.29 L285.26 644.14 L290.79 643.84 L296.27 643.39 L301.69 642.79 L307.03 642.04 L312.27 641.15 L317.40 640.12Z" fill="url(#g2_2)"/>
<linearGradient id="g2_3" gradientUnits="userSpaceOnUse" x1="241.33" y1="0" x2="186.84" y2="0"><stop offset="0.000" stop-color="#b28600"/><stop offset="0.098" stop-color="#b58800"/><stop offset="0.193" stop-color="#b98b00"/><stop offset="0.286" stop-color="#bc8e00"/><stop offset="0.376" stop-color="#bf9000"/><stop offset="0.462" stop-color="#c19100"/><stop offset="0.544" stop-color="#c39300"/><stop offset="0.622" stop-color="#c59400"/><stop offset="0.697" stop-color="#c69500"/><stop offset="0.767" stop-color="#c89700"/><stop offset="0.832" stop-color="#ca9800"/><stop offset="0.893" stop-color="#cc9900"/><stop offset="0.949" stop-color="#cd9b00"/><stop offset="1.000" stop-color="#cf9c00"/></linearGradient>
<path d="M241.33 619.59 L235.99 618.55 L230.79 617.37 L225.74 616.05 L220.87 614.60 L216.18 613.02 L211.69 611.33 L207.42 609.53 L203.37 607.62 L199.56 605.62 L195.99 603.52 L192.67 601.34 L189.62 599.09 L186.84 596.77 L187.56 617.39 L190.32 619.80 L193.35 622.13 L196.64 624.40 L200.18 626.57 L203.96 628.65 L207.98 630.63 L212.22 632.50 L216.67 634.26 L221.32 635.89 L226.15 637.40 L231.16 638.76 L236.32 639.99 L241.62 641.07Z" fill="url(#g2_3)"/>
<linearGradient id="g2_4" gradientUnits="userSpaceOnUse" x1="186.84" y1="0" x2="174.28" y2="0"><stop offset="0.000" stop-color="#375d9f"/><stop offset="0.190" stop-color="#385da0"/><stop offset="0.361" stop-color="#385ea2"/><stop offset="0.511" stop-color="#385fa3"/><stop offset="0.642" stop-color="#395fa4"/><stop offset="0.752" stop-color="#3960a5"/><stop offset="0.842" stop-color="#3a61a6"/><stop offset="0.911" stop-color="#3a61a7"/><stop offset="0.961" stop-color="#3a62a8"/><stop offset="0.990" stop-color="#3b62a9"/><stop offset="1.000" stop-color="#3b63aa"/></linearGradient>
<path d="M186.84 596.77 L184.45 594.52 L182.31 592.22 L180.42 589.88 L178.78 587.51 L177.40 585.11 L176.27 582.69 L175.40 580.26 L174.77 577.82 L174.40 575.38 L174.28 572.95 L175.10 592.67 L175.22 595.19 L175.59 597.72 L176.21 600.25 L177.08 602.78 L178.20 605.28 L179.57 607.77 L181.19 610.24 L183.06 612.66 L185.19 615.05 L187.56 617.39Z" fill="url(#g2_4)"/>
<path d="M317.73 618.67 L317.40 640.12" stroke="#fff" stroke-width="1.3" fill="none"/>
<path d="M241.33 619.59 L241.62 641.07" stroke="#fff" stroke-width="1.3" fill="none"/>
<path d="M186.84 596.77 L187.56 617.39" stroke="#fff" stroke-width="1.3" fill="none"/>
<path d="M277.15 568.20 L277.15 523.20 L280.38 523.22 L283.62 523.30 L286.84 523.42 L290.06 523.59 L293.27 523.81 L296.46 524.08 L299.63 524.40 L302.79 524.77 L305.92 525.18 L309.03 525.65 L312.10 526.16 L315.15 526.72 L318.16 527.32 L321.13 527.97 L324.07 528.67 L326.96 529.42 L329.80 530.21 L332.60 531.04 L335.34 531.92 L338.03 532.85 L340.66 533.81 L343.24 534.82 L345.74 535.87 L348.19 536.97 L350.56 538.10 L352.86 539.27 L355.09 540.48 L357.24 541.73 L359.31 543.01 L361.30 544.33 L363.20 545.69 L365.01 547.07 L366.73 548.49 L368.36 549.94 L369.89 551.42 L371.33 552.93 L372.66 554.47 L373.89 556.03 L375.01 557.62 L376.03 559.23 L376.93 560.86 L377.73 562.50 L378.41 564.17 L378.97 565.85Z" fill="#5B9BD5" stroke="#fff" stroke-width="1.1" stroke-linejoin="round"/>
<path d="M277.15 568.20 L378.97 565.85 L379.41 567.55 L379.74 569.26 L379.94 570.99 L380.02 572.72 L379.97 574.45 L379.80 576.19 L379.50 577.94 L379.08 579.68 L378.52 581.42 L377.84 583.15 L377.02 584.88 L376.08 586.59 L375.00 588.30 L373.80 589.99 L372.47 591.67 L371.00 593.32 L369.42 594.95 L367.70 596.56 L365.86 598.14 L363.89 599.70 L361.80 601.22 L359.60 602.71 L357.27 604.16 L354.83 605.57 L352.27 606.94 L349.61 608.27 L346.84 609.55 L343.96 610.78 L340.99 611.97 L337.92 613.10 L334.76 614.17 L331.51 615.19 L328.18 616.15 L324.77 617.05 L321.28 617.89 L317.73 618.67Z" fill="#ED7D31" stroke="#fff" stroke-width="1.1" stroke-linejoin="round"/>
<path d="M277.15 568.20 L317.73 618.67 L314.12 619.38 L310.45 620.03 L306.73 620.60 L302.97 621.11 L299.16 621.55 L295.32 621.92 L291.45 622.22 L287.56 622.45 L283.65 622.61 L279.73 622.69 L275.81 622.70 L271.89 622.64 L267.97 622.51 L264.08 622.30 L260.20 622.03 L256.35 621.68 L252.53 621.26 L248.75 620.77 L245.02 620.22 L241.33 619.59Z" fill="#A5A5A5" stroke="#fff" stroke-width="1.1" stroke-linejoin="round"/>
<path d="M277.15 568.20 L241.33 619.59 L237.85 618.93 L234.42 618.21 L231.05 617.43 L227.74 616.59 L224.51 615.70 L221.35 614.75 L218.27 613.75 L215.27 612.70 L212.35 611.59 L209.53 610.45 L206.80 609.25 L204.16 608.01 L201.62 606.73 L199.19 605.41 L196.86 604.05 L194.63 602.66 L192.51 601.23 L190.51 599.77 L188.62 598.29 L186.84 596.77Z" fill="#FFC000" stroke="#fff" stroke-width="1.1" stroke-linejoin="round"/>
<path d="M277.15 568.20 L186.84 596.77 L185.13 595.19 L183.54 593.58 L182.08 591.96 L180.74 590.31 L179.53 588.65 L178.45 586.97 L177.49 585.28 L176.65 583.58 L175.95 581.87 L175.37 580.16 L174.91 578.44 L174.58 576.73 L174.37 575.01 L174.28 573.30 L174.32 571.59 L174.47 569.89Z" fill="#4472C4" stroke="#fff" stroke-width="1.1" stroke-linejoin="round"/>
<path d="M277.15 568.20 L174.47 569.89 L174.76 568.17 L175.16 566.46 L175.68 564.76 L176.32 563.08 L177.08 561.42 L177.96 559.77 L178.94 558.15 L180.04 556.54 L181.24 554.96 L182.55 553.41 L183.96 551.88Z" fill="#70AD47" stroke="#fff" stroke-width="1.1" stroke-linejoin="round"/>
<path d="M277.15 568.20 L183.96 551.88 L185.36 550.49 L186.84 549.12 L188.41 547.78 L190.06 546.47 L191.79 545.19 L193.59 543.93 L195.47 542.71 L197.42 541.51 L199.43 540.35 L201.52 539.23 L203.67 538.13Z" fill="#255E91" stroke="#fff" stroke-width="1.1" stroke-linejoin="round"/>
<path d="M277.15 568.20 L203.67 538.13 L205.85 537.09 L208.10 536.07 L210.40 535.10 L212.75 534.15 L215.16 533.25 L217.61 532.38 L220.12 531.54 L222.67 530.75 L225.26 529.99 L227.89 529.27Z" fill="#9E480E" stroke="#fff" stroke-width="1.1" stroke-linejoin="round"/>
<path d="M277.15 568.20 L227.89 529.27 L230.76 528.54 L233.66 527.86 L236.61 527.22 L239.59 526.63 L242.60 526.09 L245.65 525.59 L248.72 525.14 L251.81 524.73 L254.93 524.37 L258.07 524.06 L261.22 523.80 L264.39 523.58 L267.57 523.41 L270.76 523.29 L273.95 523.22 L277.15 523.20Z" fill="#636363" stroke="#fff" stroke-width="1.1" stroke-linejoin="round"/>
<path d="M277.15 523.20 L280.41 523.22 L283.67 523.30 L286.93 523.42 L290.17 523.60 L293.40 523.82 L296.62 524.10 L299.82 524.42 L303.00 524.79 L306.16 525.22 L309.29 525.69 L312.39 526.21 L315.46 526.78 L318.49 527.39 L321.49 528.06 L324.44 528.77 L327.35 529.52 L330.21 530.33 L333.02 531.18 L335.78 532.07 L338.48 533.01 L341.13 533.99 L343.71 535.02 L346.23 536.08 L348.68 537.19 L351.06 538.34 L353.36 539.53 L355.59 540.76 L357.74 542.03 L359.81 543.33 L361.79 544.67 L363.68 546.05 L365.49 547.46 L367.20 548.90 L368.81 550.37 L370.33 551.87 L371.75 553.40 L373.06 554.96 L374.26 556.54 L375.36 558.15 L376.35 559.78 L377.22 561.43 L377.98 563.10 L378.62 564.78 L379.15 566.49 L379.55 568.20 L379.83 569.93 L379.99 571.66 L380.02 573.41 L379.92 575.15 L379.69 576.91 L379.34 578.66 L378.86 580.41 L378.24 582.16 L377.50 583.90 L376.62 585.63 L375.62 587.35 L374.48 589.06 L373.21 590.76 L371.81 592.43 L370.28 594.09 L368.62 595.72 L366.83 597.32 L364.92 598.90 L362.88 600.45 L360.72 601.96 L358.44 603.44 L356.04 604.88 L353.53 606.28 L350.90 607.64 L348.17 608.95 L345.32 610.21 L342.38 611.42 L339.33 612.59 L336.20 613.69 L332.97 614.74 L329.65 615.74 L326.25 616.67 L322.78 617.54 L319.24 618.35 L315.63 619.09 L311.95 619.77 L308.23 620.38 L304.45 620.92 L300.63 621.39 L296.78 621.79 L292.89 622.12 L288.98 622.38 L285.05 622.56 L281.10 622.67 L277.15 622.71 L273.20 622.67 L269.25 622.56 L265.32 622.38 L261.41 622.12 L257.52 621.79 L253.67 621.39 L249.85 620.92 L246.07 620.38 L242.35 619.77 L238.67 619.09 L235.06 618.35 L231.52 617.54 L228.05 616.67 L224.65 615.74 L221.33 614.74 L218.10 613.69 L214.97 612.59 L211.92 611.42 L208.98 610.21 L206.13 608.95 L203.40 607.64 L200.77 606.28 L198.26 604.88 L195.86 603.44 L193.58 601.96 L191.42 600.45 L189.38 598.90 L187.47 597.32 L185.68 595.72 L184.02 594.09 L182.49 592.43 L181.09 590.76 L179.82 589.06 L178.68 587.35 L177.68 585.63 L176.80 583.90 L176.06 582.16 L175.44 580.41 L174.96 578.66 L174.61 576.91 L174.38 575.15 L174.28 573.41 L174.31 571.66 L174.47 569.93 L174.75 568.20 L175.15 566.49 L175.68 564.78 L176.32 563.10 L177.08 561.43 L177.95 559.78 L178.94 558.15 L180.04 556.54 L181.24 554.96 L182.55 553.40 L183.97 551.87 L185.49 550.37 L187.10 548.90 L188.81 547.46 L190.62 546.05 L192.51 544.67 L194.49 543.33 L196.56 542.03 L198.71 540.76 L200.94 539.53 L203.24 538.34 L205.62 537.19 L208.07 536.08 L210.59 535.02 L213.17 533.99 L215.82 533.01 L218.52 532.07 L221.28 531.18 L224.09 530.33 L226.95 529.52 L229.86 528.77 L232.81 528.06 L235.81 527.39 L238.84 526.78 L241.91 526.21 L245.01 525.69 L248.14 525.22 L251.30 524.79 L254.48 524.42 L257.68 524.10 L260.90 523.82 L264.13 523.60 L267.37 523.42 L270.63 523.30 L273.89 523.22Z" fill="none" stroke="#fff" stroke-width="1.7"/>
<path d="M593.54 571.60 L593.67 569.09 L594.07 566.60 L594.74 564.14 L595.65 561.71 L596.82 559.31 L598.23 556.95 L599.88 554.64 L601.76 552.38 L603.86 550.19 L606.17 548.05 L608.70 545.98 L611.42 543.98 L614.33 542.05 L617.43 540.20 L620.70 538.44 L624.13 536.76 L627.71 535.16 L631.44 533.66 L635.30 532.25 L639.29 530.94 L643.40 529.72 L647.62 528.60 L651.93 527.59 L656.33 526.67 L660.80 525.86 L665.35 525.16 L669.95 524.56 L674.60 524.07 L679.29 523.69 L684.01 523.42 L688.75 523.26 L693.50 523.20 L698.25 523.26 L702.99 523.42 L707.71 523.69 L712.40 524.07 L717.05 524.56 L721.65 525.16 L726.20 525.86 L730.67 526.67 L735.07 527.59 L739.38 528.60 L743.60 529.72 L747.71 530.94 L751.70 532.25 L755.56 533.66 L759.29 535.16 L762.87 536.76 L766.30 538.44 L769.57 540.20 L772.67 542.05 L775.58 543.98 L778.30 545.98 L780.83 548.05 L783.14 550.19 L785.24 552.38 L787.12 554.64 L788.77 556.95 L790.18 559.31 L791.35 561.71 L792.26 564.14 L792.93 566.60 L793.33 569.09 L793.46 571.60 L792.66 591.14 L792.52 593.77 L792.11 596.40 L791.42 599.02 L790.46 601.64 L789.21 604.23 L787.68 606.80 L785.88 609.34 L783.80 611.83 L781.44 614.27 L778.82 616.65 L775.93 618.97 L772.78 621.21 L769.38 623.37 L765.73 625.43 L761.86 627.40 L757.76 629.26 L753.45 631.01 L748.94 632.64 L744.24 634.15 L739.38 635.52 L734.36 636.75 L729.20 637.84 L723.92 638.78 L718.53 639.58 L713.06 640.21 L707.52 640.69 L701.93 641.02 L696.31 641.18 L690.69 641.18 L685.07 641.02 L679.48 640.69 L673.94 640.21 L668.47 639.58 L663.08 638.78 L657.80 637.84 L652.64 636.75 L647.62 635.52 L642.76 634.15 L638.06 632.64 L633.55 631.01 L629.24 629.26 L625.14 627.40 L621.27 625.43 L617.62 623.37 L614.22 621.21 L611.07 618.97 L608.18 616.65 L605.56 614.27 L603.20 611.83 L601.12 609.34 L599.32 606.80 L597.79 604.23 L596.54 601.64 L595.58 599.02 L594.89 596.40 L594.48 593.77 L594.34 591.14Z" fill="#000" opacity="0.13" filter="url(#blur)" transform="translate(0,0.8)"/>
<linearGradient id="g3_1" gradientUnits="userSpaceOnUse" x1="793.46" y1="0" x2="785.59" y2="0"><stop offset="0.000" stop-color="#613314"/><stop offset="0.015" stop-color="#613314"/><stop offset="0.062" stop-color="#613314"/><stop offset="0.139" stop-color="#613314"/><stop offset="0.248" stop-color="#613314"/><stop offset="0.389" stop-color="#613314"/><stop offset="0.561" stop-color="#613314"/><stop offset="0.765" stop-color="#613314"/><stop offset="1.000" stop-color="#613314"/></linearGradient>
<path d="M793.46 571.60 L793.34 573.98 L792.97 576.37 L792.36 578.75 L791.50 581.13 L790.40 583.49 L789.04 585.83 L787.44 588.14 L785.59 590.43 L784.85 610.61 L786.69 608.26 L788.28 605.86 L789.62 603.44 L790.72 601.00 L791.57 598.54 L792.18 596.07 L792.54 593.61 L792.66 591.14Z" fill="url(#g3_1)"/>
<linearGradient id="g3_2" gradientUnits="userSpaceOnUse" x1="785.59" y1="0" x2="726.59" y2="0"><stop offset="0.000" stop-color="#444444"/><stop offset="0.038" stop-color="#444444"/><stop offset="0.081" stop-color="#444444"/><stop offset="0.128" stop-color="#444444"/><stop offset="0.180" stop-color="#444444"/><stop offset="0.236" stop-color="#444444"/><stop offset="0.297" stop-color="#444444"/><stop offset="0.361" stop-color="#444444"/><stop offset="0.430" stop-color="#444444"/><stop offset="0.502" stop-color="#444444"/><stop offset="0.577" stop-color="#444444"/><stop offset="0.656" stop-color="#444444"/><stop offset="0.738" stop-color="#454545"/><stop offset="0.823" stop-color="#464646"/><stop offset="0.910" stop-color="#484848"/><stop offset="1.000" stop-color="#494949"/></linearGradient>
<path d="M785.59 590.43 L783.34 592.82 L780.82 595.16 L778.03 597.43 L774.97 599.64 L771.65 601.77 L768.09 603.82 L764.28 605.77 L760.24 607.63 L755.99 609.37 L751.52 611.01 L746.86 612.52 L742.02 613.91 L737.02 615.17 L731.87 616.29 L726.59 617.27 L726.32 638.38 L731.56 637.36 L736.67 636.20 L741.64 634.90 L746.44 633.47 L751.06 631.90 L755.49 630.21 L759.71 628.40 L763.72 626.49 L767.49 624.47 L771.03 622.35 L774.32 620.15 L777.35 617.86 L780.12 615.51 L782.62 613.09 L784.85 610.61Z" fill="url(#g3_2)"/>
<linearGradient id="g3_3" gradientUnits="userSpaceOnUse" x1="726.59" y1="0" x2="657.10" y2="0"><stop offset="0.000" stop-color="#715500"/><stop offset="0.075" stop-color="#735700"/><stop offset="0.151" stop-color="#7a5c00"/><stop offset="0.228" stop-color="#806100"/><stop offset="0.305" stop-color="#876500"/><stop offset="0.384" stop-color="#8c6a00"/><stop offset="0.462" stop-color="#916d00"/><stop offset="0.541" stop-color="#957000"/><stop offset="0.620" stop-color="#9a7400"/><stop offset="0.698" stop-color="#9f7800"/><stop offset="0.775" stop-color="#a57c00"/><stop offset="0.851" stop-color="#ab8100"/><stop offset="0.926" stop-color="#b08400"/><stop offset="1.000" stop-color="#b38700"/></linearGradient>
<path d="M726.59 617.27 L721.40 618.07 L716.12 618.74 L710.77 619.27 L705.36 619.65 L699.92 619.90 L694.46 619.99 L688.99 619.95 L683.54 619.76 L678.12 619.42 L672.75 618.94 L667.44 618.32 L662.22 617.57 L657.10 616.67 L657.39 637.76 L662.47 638.68 L667.65 639.47 L672.91 640.11 L678.24 640.60 L683.62 640.95 L689.03 641.15 L694.45 641.19 L699.87 641.09 L705.27 640.84 L710.63 640.44 L715.94 639.90 L721.17 639.21 L726.32 638.38Z" fill="url(#g3_3)"/>
<linearGradient id="g3_4" gradientUnits="userSpaceOnUse" x1="657.10" y1="0" x2="606.40" y2="0"><stop offset="0.000" stop-color="#30508a"/><stop offset="0.097" stop-color="#31528c"/><stop offset="0.192" stop-color="#32538f"/><stop offset="0.284" stop-color="#325591"/><stop offset="0.372" stop-color="#335693"/><stop offset="0.458" stop-color="#345795"/><stop offset="0.540" stop-color="#345796"/><stop offset="0.618" stop-color="#355897"/><stop offset="0.693" stop-color="#355999"/><stop offset="0.763" stop-color="#355a9a"/><stop offset="0.829" stop-color="#365a9b"/><stop offset="0.891" stop-color="#365b9d"/><stop offset="0.948" stop-color="#375c9e"/><stop offset="1.000" stop-color="#375d9f"/></linearGradient>
<path d="M657.10 616.67 L652.17 615.67 L647.38 614.54 L642.72 613.29 L638.22 611.92 L633.88 610.45 L629.72 608.87 L625.75 607.18 L621.98 605.41 L618.42 603.55 L615.07 601.60 L611.95 599.59 L609.06 597.50 L606.40 595.35 L607.10 615.71 L609.73 617.93 L612.60 620.09 L615.70 622.18 L619.02 624.19 L622.55 626.11 L626.29 627.95 L630.23 629.68 L634.36 631.32 L638.66 632.85 L643.13 634.26 L647.75 635.55 L652.51 636.72 L657.39 637.76Z" fill="url(#g3_4)"/>
<linearGradient id="g3_5" gradientUnits="userSpaceOnUse" x1="606.40" y1="0" x2="593.54" y2="0"><stop offset="0.000" stop-color="#5b8c3a"/><stop offset="0.190" stop-color="#5c8e3a"/><stop offset="0.360" stop-color="#5c8f3b"/><stop offset="0.510" stop-color="#5d903b"/><stop offset="0.641" stop-color="#5e913b"/><stop offset="0.751" stop-color="#5e923c"/><stop offset="0.841" stop-color="#5f933c"/><stop offset="0.911" stop-color="#60943d"/><stop offset="0.960" stop-color="#60953d"/><stop offset="0.990" stop-color="#61963d"/><stop offset="1.000" stop-color="#61973e"/></linearGradient>
<path d="M606.40 595.35 L603.96 593.12 L601.77 590.83 L599.84 588.51 L598.16 586.14 L596.74 583.75 L595.59 581.34 L594.69 578.91 L594.05 576.47 L593.67 574.03 L593.54 571.60 L594.34 591.14 L594.47 593.66 L594.84 596.19 L595.48 598.71 L596.37 601.22 L597.52 603.71 L598.92 606.19 L600.59 608.63 L602.51 611.03 L604.68 613.40 L607.10 615.71Z" fill="url(#g3_5)"/>
<path d="M785.59 590.43 L784.85 610.61" stroke="#fff" stroke-width="1.3" fill="none"/>
<path d="M726.59 617.27 L726.32 638.38" stroke="#fff" stroke-width="1.3" fill="none"/>
<path d="M657.10 616.67 L657.39 637.76" stroke="#fff" stroke-width="1.3" fill="none"/>
<path d="M606.40 595.35 L607.10 615.71" stroke="#fff" stroke-width="1.3" fill="none"/>
<path d="M693.50 567.50 L693.50 523.20 L696.70 523.23 L699.90 523.30 L703.09 523.43 L706.27 523.60 L709.44 523.82 L712.59 524.09 L715.73 524.41 L718.84 524.78 L721.94 525.20 L725.00 525.67 L728.04 526.18 L731.04 526.74 L734.01 527.35 L736.94 528.01 L739.82 528.71 L742.66 529.46 L745.46 530.25 L748.20 531.09 L750.90 531.98 L753.53 532.90 L756.11 533.87 L758.62 534.88 L761.07 535.93 L763.45 537.03 L765.76 538.16 L768.00 539.33 L770.16 540.54 L772.24 541.78 L774.24 543.07 L776.15 544.38Z" fill="#5B9BD5" stroke="#fff" stroke-width="1.1" stroke-linejoin="round"/>
<path d="M693.50 567.50 L776.15 544.38 L777.97 545.72 L779.69 547.09 L781.33 548.49 L782.87 549.92 L784.31 551.37 L785.66 552.86 L786.91 554.37 L788.05 555.90 L789.09 557.45 L790.03 559.03 L790.85 560.62 L791.57 562.23 L792.17 563.86 L792.66 565.50 L793.04 567.15 L793.29 568.82 L793.43 570.49 L793.45 572.16 L793.35 573.84 L793.13 575.53 L792.78 577.21 L792.32 578.89 L791.73 580.57 L791.01 582.24 L790.17 583.90 L789.21 585.56 L788.13 587.20 L786.92 588.82 L785.59 590.43Z" fill="#ED7D31" stroke="#fff" stroke-width="1.1" stroke-linejoin="round"/>
<path d="M693.50 567.50 L785.59 590.43 L784.15 591.99 L782.60 593.54 L780.93 595.06 L779.15 596.55 L777.25 598.02 L775.25 599.45 L773.13 600.86 L770.90 602.22 L768.57 603.56 L766.13 604.85 L763.60 606.10 L760.96 607.31 L758.24 608.48 L755.42 609.59 L752.51 610.66 L749.52 611.68 L746.45 612.65 L743.30 613.56 L740.09 614.42 L736.80 615.22 L733.45 615.96 L730.05 616.65 L726.59 617.27Z" fill="#A5A5A5" stroke="#fff" stroke-width="1.1" stroke-linejoin="round"/>
<path d="M693.50 567.50 L726.59 617.27 L723.05 617.83 L719.46 618.34 L715.84 618.77 L712.18 619.14 L708.50 619.45 L704.79 619.69 L701.07 619.86 L697.33 619.96 L693.59 620.00 L689.85 619.96 L686.12 619.86 L682.39 619.70 L678.68 619.46 L675.00 619.16 L671.34 618.79 L667.72 618.36 L664.13 617.86 L660.59 617.30 L657.10 616.67Z" fill="#FFC000" stroke="#fff" stroke-width="1.1" stroke-linejoin="round"/>
<path d="M693.50 567.50 L657.10 616.67 L653.72 616.00 L650.39 615.26 L647.13 614.47 L643.93 613.63 L640.81 612.73 L637.75 611.77 L634.78 610.77 L631.89 609.71 L629.08 608.61 L626.36 607.46 L623.74 606.26 L621.21 605.03 L618.78 603.75 L616.45 602.43 L614.23 601.08 L612.11 599.69 L610.10 598.27 L608.19 596.83 L606.40 595.35Z" fill="#4472C4" stroke="#fff" stroke-width="1.1" stroke-linejoin="round"/>
<path d="M693.50 567.50 L606.40 595.35 L604.71 593.83 L603.14 592.29 L601.68 590.73 L600.34 589.14 L599.12 587.54 L598.02 585.93 L597.04 584.30 L596.19 582.66 L595.45 581.01 L594.83 579.36 L594.34 577.70 L593.96 576.03 L593.70 574.37 L593.57 572.71 L593.55 571.05Z" fill="#70AD47" stroke="#fff" stroke-width="1.1" stroke-linejoin="round"/>
<path d="M693.50 567.50 L593.55 571.05 L593.64 569.43 L593.85 567.82 L594.16 566.22 L594.58 564.63 L595.11 563.05 L595.75 561.49 L596.49 559.93 L597.33 558.40 L598.27 556.89 L599.31 555.39 L600.45 553.92 L601.68 552.47 L603.01 551.04 L604.43 549.63 L605.93 548.26Z" fill="#255E91" stroke="#fff" stroke-width="1.1" stroke-linejoin="round"/>
<path d="M693.50 567.50 L605.93 548.26 L607.54 546.90 L609.22 545.57 L610.99 544.28 L612.84 543.01 L614.77 541.78 L616.78 540.58 L618.85 539.41 L621.00 538.28 L623.22 537.18 L625.50 536.12 L627.85 535.10 L630.26 534.12Z" fill="#9E480E" stroke="#fff" stroke-width="1.1" stroke-linejoin="round"/>
<path d="M693.50 567.50 L630.26 534.12 L632.73 533.17 L635.26 532.27 L637.84 531.40 L640.47 530.57 L643.15 529.79 L645.88 529.05 L648.65 528.35 L651.46 527.69 L654.30 527.08 L657.19 526.51 L660.10 525.98 L663.04 525.50 L666.01 525.07 L669.00 524.68 L672.02 524.33 L675.05 524.03 L678.10 523.78 L681.17 523.57 L684.24 523.41 L687.32 523.29 L690.41 523.23 L693.50 523.20Z" fill="#636363" stroke="#fff" stroke-width="1.1" stroke-linejoin="round"/>
<path d="M693.50 523.20 L696.70 523.23 L699.91 523.30 L703.10 523.43 L706.29 523.60 L709.46 523.82 L712.62 524.10 L715.77 524.42 L718.89 524.79 L721.98 525.21 L725.05 525.68 L728.09 526.19 L731.10 526.76 L734.07 527.37 L737.01 528.03 L739.90 528.73 L742.74 529.48 L745.54 530.28 L748.29 531.12 L750.98 532.01 L753.62 532.93 L756.20 533.91 L758.71 534.92 L761.17 535.98 L763.55 537.07 L765.86 538.21 L768.10 539.38 L770.26 540.60 L772.34 541.85 L774.34 543.13 L776.25 544.45 L778.08 545.80 L779.82 547.19 L781.46 548.61 L783.01 550.05 L784.46 551.53 L785.81 553.03 L787.06 554.56 L788.20 556.11 L789.24 557.68 L790.17 559.28 L790.98 560.89 L791.69 562.52 L792.27 564.17 L792.75 565.83 L793.10 567.50 L793.33 569.18 L793.45 570.87 L793.44 572.57 L793.31 574.27 L793.05 575.97 L792.67 577.67 L792.16 579.37 L791.53 581.06 L790.77 582.75 L789.89 584.42 L788.87 586.09 L787.74 587.74 L786.47 589.38 L785.08 590.99 L783.57 592.59 L781.93 594.16 L780.18 595.71 L778.30 597.22 L776.30 598.71 L774.19 600.16 L771.96 601.58 L769.63 602.97 L767.18 604.31 L764.62 605.61 L761.96 606.86 L759.21 608.07 L756.35 609.23 L753.40 610.34 L750.36 611.40 L747.24 612.41 L744.04 613.35 L740.76 614.25 L737.41 615.08 L733.99 615.85 L730.51 616.56 L726.97 617.20 L723.39 617.78 L719.75 618.30 L716.08 618.75 L712.37 619.13 L708.63 619.44 L704.87 619.68 L701.09 619.86 L697.30 619.96 L693.50 620.00 L689.70 619.96 L685.91 619.86 L682.13 619.68 L678.37 619.44 L674.63 619.13 L670.92 618.75 L667.25 618.30 L663.61 617.78 L660.03 617.20 L656.49 616.56 L653.01 615.85 L649.59 615.08 L646.24 614.25 L642.96 613.35 L639.76 612.41 L636.64 611.40 L633.60 610.34 L630.65 609.23 L627.79 608.07 L625.04 606.86 L622.38 605.61 L619.82 604.31 L617.37 602.97 L615.04 601.58 L612.81 600.16 L610.70 598.71 L608.70 597.22 L606.82 595.71 L605.07 594.16 L603.43 592.59 L601.92 590.99 L600.53 589.38 L599.26 587.74 L598.13 586.09 L597.11 584.42 L596.23 582.75 L595.47 581.06 L594.84 579.37 L594.33 577.67 L593.95 575.97 L593.69 574.27 L593.56 572.57 L593.55 570.87 L593.67 569.18 L593.90 567.50 L594.25 565.83 L594.73 564.17 L595.31 562.52 L596.02 560.89 L596.83 559.28 L597.76 557.68 L598.80 556.11 L599.94 554.56 L601.19 553.03 L602.54 551.53 L603.99 550.05 L605.54 548.61 L607.18 547.19 L608.92 545.80 L610.75 544.45 L612.66 543.13 L614.66 541.85 L616.74 540.60 L618.90 539.38 L621.14 538.21 L623.45 537.07 L625.83 535.98 L628.29 534.92 L630.80 533.91 L633.38 532.93 L636.02 532.01 L638.71 531.12 L641.46 530.28 L644.26 529.48 L647.10 528.73 L649.99 528.03 L652.93 527.37 L655.90 526.76 L658.91 526.19 L661.95 525.68 L665.02 525.21 L668.11 524.79 L671.23 524.42 L674.38 524.10 L677.54 523.82 L680.71 523.60 L683.90 523.43 L687.09 523.30 L690.30 523.23Z" fill="none" stroke="#fff" stroke-width="1.7"/>
</g>
<g id="leaders">
<path d="M596.8 76.8 L596.8 144.5" stroke="#a6a6a6" stroke-width="1.6" fill="none"/>
<path d="M590.9 102.0 L590.9 153.0" stroke="#a6a6a6" stroke-width="1.6" fill="none"/>
<path d="M591.5 186.7 L591.5 213.5" stroke="#a6a6a6" stroke-width="1.6" fill="none"/>
<path d="M600.0 205.0 L600.0 252.0" stroke="#a6a6a6" stroke-width="1.6" fill="none"/>
<path d="M170.7 465.5 L178.2 560.7" stroke="#a6a6a6" stroke-width="1.6" fill="none"/>
<path d="M215.0 495.0 L215.0 532.5" stroke="#a6a6a6" stroke-width="1.6" fill="none"/>
<path d="M192.2 538.7 L192.7 546.0" stroke="#a6a6a6" stroke-width="1.6" fill="none"/>
<path d="M616.1 490.0 L616.1 540.5" stroke="#a6a6a6" stroke-width="1.6" fill="none"/>
<path d="M588.2 532.9 L596.8 559.2" stroke="#a6a6a6" stroke-width="1.6" fill="none"/>
<path d="M597.6 598.0 L597.6 629.0" stroke="#a6a6a6" stroke-width="1.6" fill="none"/>
<path d="M628.5 629.5 L628.5 683.0" stroke="#a6a6a6" stroke-width="1.6" fill="none"/>
</g>
<g id="legends">
<rect x="394.3" y="42.5" width="16.0" height="16.0" rx="3" fill="none" stroke="#cfcfcf" stroke-width="1"/><rect x="394.3" y="41.8" width="16.0" height="16.0" rx="3" fill="#fff" stroke="#e1e1e1" stroke-width="1"/><rect x="400.0" y="47.7" width="4.6" height="4.6" fill="#5B9BD5"/>
<text x="410.6" y="54.1" class="lg" font-size="14.40">美国</text>
<rect x="394.3" y="72.5" width="16.0" height="16.0" rx="3" fill="none" stroke="#cfcfcf" stroke-width="1"/><rect x="394.3" y="71.8" width="16.0" height="16.0" rx="3" fill="#fff" stroke="#e1e1e1" stroke-width="1"/><rect x="400.0" y="77.7" width="4.6" height="4.6" fill="#ED7D31"/>
<text x="410.6" y="84.1" class="lg" font-size="14.40">日本</text>
<rect x="394.3" y="102.5" width="16.0" height="16.0" rx="3" fill="none" stroke="#cfcfcf" stroke-width="1"/><rect x="394.3" y="101.8" width="16.0" height="16.0" rx="3" fill="#fff" stroke="#e1e1e1" stroke-width="1"/><rect x="400.0" y="107.7" width="4.6" height="4.6" fill="#A5A5A5"/>
<text x="410.6" y="114.1" class="lg" font-size="14.40">越南</text>
<rect x="394.3" y="132.5" width="16.0" height="16.0" rx="3" fill="none" stroke="#cfcfcf" stroke-width="1"/><rect x="394.3" y="131.8" width="16.0" height="16.0" rx="3" fill="#fff" stroke="#e1e1e1" stroke-width="1"/><rect x="400.0" y="137.7" width="4.6" height="4.6" fill="#FFC000"/>
<text x="410.6" y="144.1" class="lg" font-size="14.40">中国</text>
<rect x="394.3" y="162.5" width="16.0" height="16.0" rx="3" fill="none" stroke="#cfcfcf" stroke-width="1"/><rect x="394.3" y="161.8" width="16.0" height="16.0" rx="3" fill="#fff" stroke="#e1e1e1" stroke-width="1"/><rect x="400.0" y="167.7" width="4.6" height="4.6" fill="#4472C4"/>
<text x="410.6" y="174.1" class="lg" font-size="14.40">印度尼西亚</text>
<rect x="394.3" y="192.5" width="16.0" height="16.0" rx="3" fill="none" stroke="#cfcfcf" stroke-width="1"/><rect x="394.3" y="191.8" width="16.0" height="16.0" rx="3" fill="#fff" stroke="#e1e1e1" stroke-width="1"/><rect x="400.0" y="197.7" width="4.6" height="4.6" fill="#70AD47"/>
<text x="410.6" y="204.1" class="lg" font-size="14.40">印度</text>
<rect x="394.3" y="222.5" width="16.0" height="16.0" rx="3" fill="none" stroke="#cfcfcf" stroke-width="1"/><rect x="394.3" y="221.8" width="16.0" height="16.0" rx="3" fill="#fff" stroke="#e1e1e1" stroke-width="1"/><rect x="400.0" y="227.7" width="4.6" height="4.6" fill="#255E91"/>
<text x="410.6" y="234.1" class="lg" font-size="14.40">缅甸</text>
<rect x="394.3" y="252.5" width="16.0" height="16.0" rx="3" fill="none" stroke="#cfcfcf" stroke-width="1"/><rect x="394.3" y="251.8" width="16.0" height="16.0" rx="3" fill="#fff" stroke="#e1e1e1" stroke-width="1"/><rect x="400.0" y="257.7" width="4.6" height="4.6" fill="#9E480E"/>
<text x="410.6" y="264.1" class="lg" font-size="14.40">柬埔寨</text>
<rect x="394.3" y="282.5" width="16.0" height="16.0" rx="3" fill="none" stroke="#cfcfcf" stroke-width="1"/><rect x="394.3" y="281.8" width="16.0" height="16.0" rx="3" fill="#fff" stroke="#e1e1e1" stroke-width="1"/><rect x="400.0" y="287.7" width="4.6" height="4.6" fill="#636363"/>
<text x="410.6" y="294.1" class="lg" font-size="14.40">其他国家</text>
<rect x="817.4" y="33.9" width="16.3" height="16.3" rx="3" fill="none" stroke="#cfcfcf" stroke-width="1"/><rect x="817.4" y="33.2" width="16.3" height="16.3" rx="3" fill="#fff" stroke="#e1e1e1" stroke-width="1"/><rect x="823.2" y="39.2" width="4.6" height="4.6" fill="#5B9BD5"/>
<text x="833.4" y="46.3" class="lg" font-size="14.40">中国</text>
<rect x="817.4" y="64.5" width="16.3" height="16.3" rx="3" fill="none" stroke="#cfcfcf" stroke-width="1"/><rect x="817.4" y="63.8" width="16.3" height="16.3" rx="3" fill="#fff" stroke="#e1e1e1" stroke-width="1"/><rect x="823.2" y="69.9" width="4.6" height="4.6" fill="#ED7D31"/>
<text x="833.4" y="76.9" class="lg" font-size="14.40">越南</text>
<rect x="817.4" y="95.2" width="16.3" height="16.3" rx="3" fill="none" stroke="#cfcfcf" stroke-width="1"/><rect x="817.4" y="94.5" width="16.3" height="16.3" rx="3" fill="#fff" stroke="#e1e1e1" stroke-width="1"/><rect x="823.2" y="100.5" width="4.6" height="4.6" fill="#A5A5A5"/>
<text x="833.4" y="107.6" class="lg" font-size="14.40">日本</text>
<rect x="817.4" y="125.8" width="16.3" height="16.3" rx="3" fill="none" stroke="#cfcfcf" stroke-width="1"/><rect x="817.4" y="125.1" width="16.3" height="16.3" rx="3" fill="#fff" stroke="#e1e1e1" stroke-width="1"/><rect x="823.2" y="131.2" width="4.6" height="4.6" fill="#FFC000"/>
<text x="833.4" y="138.3" class="lg" font-size="14.40">中国台湾</text>
<rect x="817.4" y="156.5" width="16.3" height="16.3" rx="3" fill="none" stroke="#cfcfcf" stroke-width="1"/><rect x="817.4" y="155.8" width="16.3" height="16.3" rx="3" fill="#fff" stroke="#e1e1e1" stroke-width="1"/><rect x="823.2" y="161.8" width="4.6" height="4.6" fill="#4472C4"/>
<text x="833.4" y="168.9" class="lg" font-size="14.40">美国</text>
<rect x="817.4" y="187.1" width="16.3" height="16.3" rx="3" fill="none" stroke="#cfcfcf" stroke-width="1"/><rect x="817.4" y="186.4" width="16.3" height="16.3" rx="3" fill="#fff" stroke="#e1e1e1" stroke-width="1"/><rect x="823.2" y="192.5" width="4.6" height="4.6" fill="#70AD47"/>
<text x="833.4" y="199.6" class="lg" font-size="14.40">澳大利亚</text>
<rect x="817.4" y="217.8" width="16.3" height="16.3" rx="3" fill="none" stroke="#cfcfcf" stroke-width="1"/><rect x="817.4" y="217.1" width="16.3" height="16.3" rx="3" fill="#fff" stroke="#e1e1e1" stroke-width="1"/><rect x="823.2" y="223.2" width="4.6" height="4.6" fill="#255E91"/>
<text x="833.4" y="230.2" class="lg" font-size="14.40">印度尼西亚</text>
<rect x="817.4" y="248.5" width="16.3" height="16.3" rx="3" fill="none" stroke="#cfcfcf" stroke-width="1"/><rect x="817.4" y="247.8" width="16.3" height="16.3" rx="3" fill="#fff" stroke="#e1e1e1" stroke-width="1"/><rect x="823.2" y="253.8" width="4.6" height="4.6" fill="#9E480E"/>
<text x="833.4" y="260.9" class="lg" font-size="14.40">印度</text>
<rect x="817.4" y="279.1" width="16.3" height="16.3" rx="3" fill="none" stroke="#cfcfcf" stroke-width="1"/><rect x="817.4" y="278.4" width="16.3" height="16.3" rx="3" fill="#fff" stroke="#e1e1e1" stroke-width="1"/><rect x="823.2" y="284.5" width="4.6" height="4.6" fill="#636363"/>
<text x="833.4" y="291.6" class="lg" font-size="14.40">其他国家</text>
<rect x="395.2" y="449.0" width="15.3" height="15.3" rx="3" fill="none" stroke="#cfcfcf" stroke-width="1"/><rect x="395.2" y="448.3" width="15.3" height="15.3" rx="3" fill="#fff" stroke="#e1e1e1" stroke-width="1"/><rect x="400.9" y="454.2" width="3.9" height="3.9" fill="#5B9BD5"/>
<text x="409.3" y="460.6" class="lg" font-size="12.40">针织服装及附件</text>
<rect x="395.2" y="480.4" width="15.3" height="15.3" rx="3" fill="none" stroke="#cfcfcf" stroke-width="1"/><rect x="395.2" y="479.7" width="15.3" height="15.3" rx="3" fill="#fff" stroke="#e1e1e1" stroke-width="1"/><rect x="400.9" y="485.6" width="3.9" height="3.9" fill="#ED7D31"/>
<text x="409.3" y="492.0" class="lg" font-size="12.40">化纤短纤及织物</text>
<rect x="395.2" y="511.8" width="15.3" height="15.3" rx="3" fill="none" stroke="#cfcfcf" stroke-width="1"/><rect x="395.2" y="511.1" width="15.3" height="15.3" rx="3" fill="#fff" stroke="#e1e1e1" stroke-width="1"/><rect x="400.9" y="517.0" width="3.9" height="3.9" fill="#A5A5A5"/>
<text x="409.3" y="523.5" class="lg" font-size="12.40">梭织服装及附件</text>
<rect x="395.2" y="543.5" width="15.3" height="15.3" rx="3" fill="none" stroke="#cfcfcf" stroke-width="1"/><rect x="395.2" y="542.8" width="15.3" height="15.3" rx="3" fill="#fff" stroke="#e1e1e1" stroke-width="1"/><rect x="400.9" y="548.6" width="3.9" height="3.9" fill="#FFC000"/>
<text x="409.3" y="555.1" class="lg" font-size="12.40">化纤长丝及织物</text>
<rect x="395.2" y="575.1" width="15.3" height="15.3" rx="3" fill="none" stroke="#cfcfcf" stroke-width="1"/><rect x="395.2" y="574.4" width="15.3" height="15.3" rx="3" fill="#fff" stroke="#e1e1e1" stroke-width="1"/><rect x="400.9" y="580.2" width="3.9" height="3.9" fill="#4472C4"/>
<text x="409.3" y="586.7" class="lg" font-size="12.40">絮、毡、无纺布</text>
<rect x="395.2" y="607.1" width="15.3" height="15.3" rx="3" fill="none" stroke="#cfcfcf" stroke-width="1"/><rect x="395.2" y="606.4" width="15.3" height="15.3" rx="3" fill="#fff" stroke="#e1e1e1" stroke-width="1"/><rect x="400.9" y="612.2" width="3.9" height="3.9" fill="#70AD47"/>
<text x="409.3" y="618.7" class="lg" font-size="12.40">针织物及钩编织</text>
<text x="409.3" y="634.9" class="lg" font-size="12.40">物</text>
<rect x="395.2" y="639.0" width="15.3" height="15.3" rx="3" fill="none" stroke="#cfcfcf" stroke-width="1"/><rect x="395.2" y="638.2" width="15.3" height="15.3" rx="3" fill="#fff" stroke="#e1e1e1" stroke-width="1"/><rect x="400.9" y="644.1" width="3.9" height="3.9" fill="#255E91"/>
<text x="409.3" y="650.6" class="lg" font-size="12.40">棉花、棉纱及棉</text>
<text x="409.3" y="666.8" class="lg" font-size="12.40">机织物</text>
<rect x="395.2" y="670.1" width="15.3" height="15.3" rx="3" fill="none" stroke="#cfcfcf" stroke-width="1"/><rect x="395.2" y="669.4" width="15.3" height="15.3" rx="3" fill="#fff" stroke="#e1e1e1" stroke-width="1"/><rect x="400.9" y="675.2" width="3.9" height="3.9" fill="#9E480E"/>
<text x="409.3" y="681.7" class="lg" font-size="12.40">其它纺织制成品</text>
<rect x="395.2" y="702.1" width="15.3" height="15.3" rx="3" fill="none" stroke="#cfcfcf" stroke-width="1"/><rect x="395.2" y="701.4" width="15.3" height="15.3" rx="3" fill="#fff" stroke="#e1e1e1" stroke-width="1"/><rect x="400.9" y="707.3" width="3.9" height="3.9" fill="#636363"/>
<text x="409.3" y="713.8" class="lg" font-size="12.40">其他</text>
<rect x="803.6" y="446.4" width="15.3" height="15.3" rx="3" fill="none" stroke="#cfcfcf" stroke-width="1"/><rect x="803.6" y="445.7" width="15.3" height="15.3" rx="3" fill="#fff" stroke="#e1e1e1" stroke-width="1"/><rect x="809.2" y="451.6" width="3.9" height="3.9" fill="#5B9BD5"/>
<text x="818.3" y="457.8" class="lg" font-size="12.40">化纤长丝及织物</text>
<rect x="803.6" y="478.4" width="15.3" height="15.3" rx="3" fill="none" stroke="#cfcfcf" stroke-width="1"/><rect x="803.6" y="477.8" width="15.3" height="15.3" rx="3" fill="#fff" stroke="#e1e1e1" stroke-width="1"/><rect x="809.2" y="483.6" width="3.9" height="3.9" fill="#ED7D31"/>
<text x="818.3" y="489.9" class="lg" font-size="12.40">棉花、棉纱及棉</text>
<text x="818.3" y="506.1" class="lg" font-size="12.40">机织物</text>
<rect x="803.6" y="510.2" width="15.3" height="15.3" rx="3" fill="none" stroke="#cfcfcf" stroke-width="1"/><rect x="803.6" y="509.5" width="15.3" height="15.3" rx="3" fill="#fff" stroke="#e1e1e1" stroke-width="1"/><rect x="809.2" y="515.4" width="3.9" height="3.9" fill="#A5A5A5"/>
<text x="818.3" y="521.6" class="lg" font-size="12.40">梭织服装及附件</text>
<rect x="803.6" y="541.9" width="15.3" height="15.3" rx="3" fill="none" stroke="#cfcfcf" stroke-width="1"/><rect x="803.6" y="541.1" width="15.3" height="15.3" rx="3" fill="#fff" stroke="#e1e1e1" stroke-width="1"/><rect x="809.2" y="547.0" width="3.9" height="3.9" fill="#FFC000"/>
<text x="818.3" y="553.3" class="lg" font-size="12.40">涂层布及工业用</text>
<text x="818.3" y="569.5" class="lg" font-size="12.40">布</text>
<rect x="803.6" y="573.9" width="15.3" height="15.3" rx="3" fill="none" stroke="#cfcfcf" stroke-width="1"/><rect x="803.6" y="573.1" width="15.3" height="15.3" rx="3" fill="#fff" stroke="#e1e1e1" stroke-width="1"/><rect x="809.2" y="579.0" width="3.9" height="3.9" fill="#4472C4"/>
<text x="818.3" y="585.3" class="lg" font-size="12.40">针织服装及附件</text>
<rect x="803.6" y="606.0" width="15.3" height="15.3" rx="3" fill="none" stroke="#cfcfcf" stroke-width="1"/><rect x="803.6" y="605.2" width="15.3" height="15.3" rx="3" fill="#fff" stroke="#e1e1e1" stroke-width="1"/><rect x="809.2" y="611.1" width="3.9" height="3.9" fill="#70AD47"/>
<text x="818.3" y="617.4" class="lg" font-size="12.40">其它纺织制成品</text>
<rect x="803.6" y="637.7" width="15.3" height="15.3" rx="3" fill="none" stroke="#cfcfcf" stroke-width="1"/><rect x="803.6" y="637.0" width="15.3" height="15.3" rx="3" fill="#fff" stroke="#e1e1e1" stroke-width="1"/><rect x="809.2" y="642.9" width="3.9" height="3.9" fill="#255E91"/>
<text x="818.3" y="649.1" class="lg" font-size="12.40">针织物及钩编织</text>
<text x="818.3" y="665.3" class="lg" font-size="12.40">物</text>
<rect x="803.6" y="669.4" width="15.3" height="15.3" rx="3" fill="none" stroke="#cfcfcf" stroke-width="1"/><rect x="803.6" y="668.6" width="15.3" height="15.3" rx="3" fill="#fff" stroke="#e1e1e1" stroke-width="1"/><rect x="809.2" y="674.5" width="3.9" height="3.9" fill="#9E480E"/>
<text x="818.3" y="680.8" class="lg" font-size="12.40">化纤短纤及织物</text>
<rect x="803.6" y="702.0" width="15.3" height="15.3" rx="3" fill="none" stroke="#cfcfcf" stroke-width="1"/><rect x="803.6" y="701.2" width="15.3" height="15.3" rx="3" fill="#fff" stroke="#e1e1e1" stroke-width="1"/><rect x="809.2" y="707.1" width="3.9" height="3.9" fill="#636363"/>
<text x="818.3" y="713.4" class="lg" font-size="12.40">其他</text>
</g>
<g id="labels">
<text x="317.6" y="130.4" class="dl" font-size="12.6" fill="#fff">19%</text>
<text x="368.8" y="157.0" class="dl" font-size="12.6" fill="#fff">11%</text>
<text x="365.6" y="182.7" class="dl" font-size="12.6" fill="#fff">8%</text>
<text x="213.7" y="142.6" class="dl" font-size="12.6" fill="#fff">42%</text>
<text x="365.3" y="243.4" class="dl" font-size="12.6" fill="#404040">5%</text>
<text x="330.8" y="255.0" class="dl" font-size="12.6" fill="#404040">4%</text>
<text x="288.9" y="255.0" class="dl" font-size="12.6" fill="#404040">4%</text>
<text x="259.1" y="255.0" class="dl" font-size="12.6" fill="#404040">4%</text>
<text x="226.9" y="253.2" class="dl" font-size="12.6" fill="#404040">3%</text>
<text x="744.4" y="147.7" class="dl" font-size="12.6" fill="#fff">45%</text>
<text x="666.5" y="132.2" class="dl" font-size="12.6" fill="#fff">20%</text>
<text x="710.4" y="201.1" class="dl" font-size="12.6" fill="#fff">8%</text>
<text x="667.0" y="197.9" class="dl" font-size="12.6" fill="#fff">6%</text>
<text x="635.1" y="195.4" class="dl" font-size="12.6" fill="#fff">5%</text>
<text x="589.3" y="73.8" class="dl" font-size="12.6" fill="#404040">3%</text>
<text x="589.3" y="97.9" class="dl" font-size="12.6" fill="#404040">3%</text>
<text x="589.3" y="227.9" class="dl" font-size="12.6" fill="#404040">5%</text>
<text x="598.9" y="267.0" class="dl" font-size="12.6" fill="#404040">5%</text>
<text x="325.5" y="557.9" class="dl" font-size="13.0" fill="#fff">16.7 , 24%</text>
<text x="337.8" y="583.5" class="dl" font-size="13.0" fill="#fff">13.7 ,</text>
<text x="338.6" y="600.8" class="dl" font-size="13.0" fill="#fff">20%</text>
<text x="281.2" y="616.3" class="dl" font-size="13.0" fill="#fff">7.6 , 11%</text>
<text x="205.6" y="584.1" class="dl" font-size="13.0" fill="#fff">6.0 , 9%</text>
<text x="225.2" y="656.6" class="dl" font-size="13.0" fill="#404040">7.3 , 10%</text>
<text x="264.6" y="515.0" class="dl" font-size="13.0" fill="#404040">6.0 , 9%</text>
<text x="209.9" y="492.2" class="dl" font-size="13.0" fill="#404040">3.5 , 5%</text>
<text x="195.4" y="465.6" class="dl" font-size="13.0" fill="#404040">4.2 , 6%</text>
<text x="185.5" y="517.6" class="dl" font-size="13.0" fill="#404040">3.9 ,</text>
<text x="186.0" y="535.3" class="dl" font-size="13.0" fill="#404040">6%</text>
<text x="729.3" y="551.0" class="dl" font-size="13.0" fill="#fff">9.6 , 17%</text>
<text x="760.9" y="569.3" class="dl" font-size="13.0" fill="#fff">9.2 , 16%</text>
<text x="744.8" y="600.9" class="dl" font-size="13.0" fill="#fff">7.2 , 13%</text>
<text x="691.2" y="616.5" class="dl" font-size="13.0" fill="#fff">6.0 , 10%</text>
<text x="666.5" y="540.6" class="dl" font-size="13.0" fill="#fff">6.8 , 12%</text>
<text x="611.0" y="486.2" class="dl" font-size="13.0" fill="#404040">3.7 , 6%</text>
<text x="599.0" y="516.2" class="dl" font-size="13.0" fill="#404040">4.6 ,</text>
<text x="599.0" y="533.6" class="dl" font-size="13.0" fill="#404040">8%</text>
<text x="600.3" y="645.7" class="dl" font-size="13.0" fill="#404040">4.7 ,</text>
<text x="600.3" y="663.1" class="dl" font-size="13.0" fill="#404040">8%</text>
<text x="620.7" y="696.5" class="dl" font-size="13.0" fill="#404040">5.9 , 10%</text>
</g>
<g id="captions">
<text y="370.7" class="cp" font-size="17.2"><tspan x="164.7">图</tspan><tspan x="182.0" class="cn"> 1-1 </tspan><tspan x="223.1" class="sp">泰国纺织品服装主要出口市场分析</tspan></text>
<text y="397.9" class="cp" font-size="17.2"><tspan x="291.8">（</tspan><tspan x="310.4" class="dg">2022</tspan><tspan x="345.5" class="sp"> </tspan><tspan x="351.1" class="sp">年）</tspan></text>
<text y="374.6" class="cp" font-size="17.2"><tspan x="563.2">图</tspan><tspan x="580.5" class="cn"> 1-2 </tspan><tspan x="621.6" class="sp">泰国纺织品服装主要进口来源国/地</tspan></text>
<text y="402.2" class="cp" font-size="17.2"><tspan x="693.9">（</tspan><tspan x="712.5" class="dg">2022</tspan><tspan x="747.6" class="sp"> </tspan><tspan x="753.2" class="sp">年）</tspan></text>
<text y="791.4" class="cp" font-size="17.2"><tspan x="185.5">图</tspan><tspan x="202.8" class="cn"> 2-1 </tspan><tspan x="243.9" class="sp">泰国纺织品服装出口产品结构</tspan></text>
<text y="819.8" class="cp" font-size="17.2"><tspan x="238.9">（</tspan><tspan x="257.5" class="dg">2022</tspan><tspan x="292.6" class="sp"> </tspan><tspan x="298.2" class="sp">年，单位：亿美元）</tspan></text>
<text y="788.5" class="cp" font-size="17.2"><tspan x="575.9">图</tspan><tspan x="593.2" class="cn"> 2-2 </tspan><tspan x="634.3" class="sp">泰国纺织品服装进口产品结构</tspan></text>
<text y="817.4" class="cp" font-size="17.2"><tspan x="630.4">（</tspan><tspan x="649.0" class="dg">2022</tspan><tspan x="684.1" class="sp"> </tspan><tspan x="689.7" class="sp">年，单位：亿美元）</tspan></text>
</g>
</svg>
</div>
</body></html>
